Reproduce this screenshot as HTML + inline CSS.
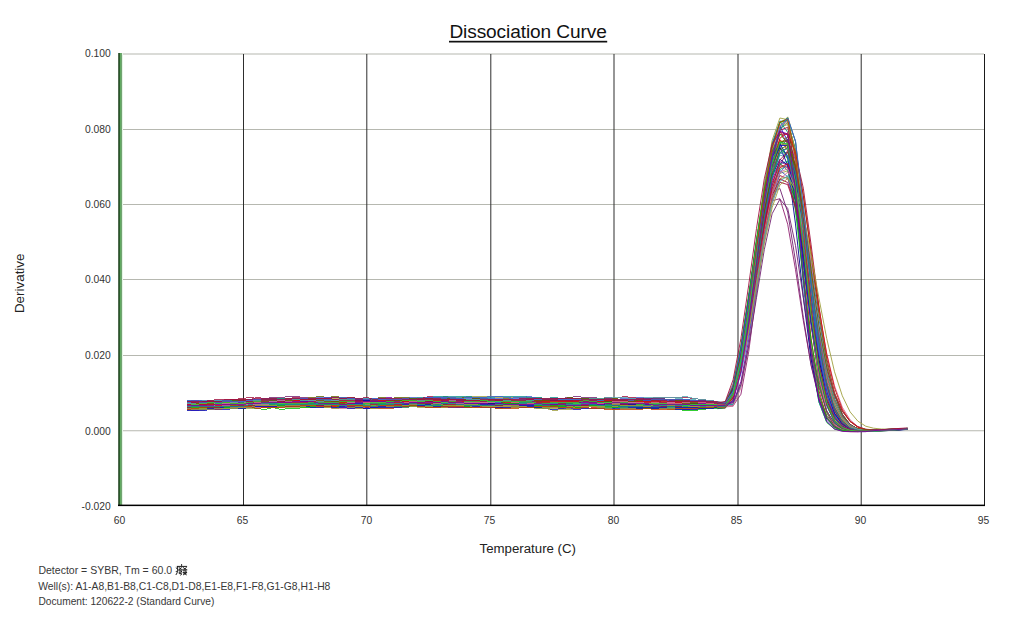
<!DOCTYPE html>
<html><head><meta charset="utf-8"><style>
html,body{margin:0;padding:0;background:#fff;width:1024px;height:640px;overflow:hidden}
svg{display:block}
</style></head><body>
<svg width="1024" height="640" viewBox="0 0 1024 640">
<rect width="1024" height="640" fill="#fff"/>
<rect x="120" y="53.5" width="864" height="1" fill="#b6b8b0"/>
<rect x="120" y="129" width="864" height="1" fill="#b6b8b0"/>
<rect x="120" y="204" width="864" height="1" fill="#b6b8b0"/>
<rect x="120" y="279" width="864" height="1" fill="#b6b8b0"/>
<rect x="120" y="355" width="864" height="1" fill="#b6b8b0"/>
<rect x="120" y="430.25" width="864" height="1" fill="#b6b8b0"/>
<rect x="243.0" y="54" width="1" height="451" fill="#2e2e2e"/>
<rect x="366.3" y="54" width="1" height="451" fill="#2e2e2e"/>
<rect x="490.3" y="54" width="1" height="451" fill="#2e2e2e"/>
<rect x="613.5" y="54" width="1" height="451" fill="#2e2e2e"/>
<rect x="737.5" y="54" width="1" height="451" fill="#2e2e2e"/>
<rect x="860.7" y="54" width="1" height="451" fill="#2e2e2e"/>
<rect x="984" y="54" width="1" height="452" fill="#1a1a1a"/>
<g fill="none" stroke-width="1" stroke-opacity="0.8" shape-rendering="crispEdges">
<polyline stroke="#d07090" points="187,409.5 195,408.5 203,408.5 211,407.5 218,408.5 226,407.5 234,407.5 242,406.5 250,406.5 257,406.5 265,406.5 273,406.5 281,406.5 289,406.5 296,405.5 304,406.5 312,407.5 320,407.5 328,407.5 335,408.5 343,408.5 351,408.5 359,408.5 367,408.5 374,408.5 382,407.5 390,407.5 398,407.5 406,407.5 413,406.5 421,406.5 429,406.5 437,405.5 445,405.5 452,406.5 460,406.5 468,406.5 476,405.5 484,406.5 491,406.5 499,407.5 507,408.5 515,407.5 523,407.5 530,407.5 538,406.5 546,405.5 554,405.5 562,405.5 569,405.5 577,406.5 585,406.5 593,405.5 601,407.5 608,406.5 616,407.5 624,406.5 632,406.5 640,407.5 647,406.5 655,407.5 663,407.5 671,407.5 679,407.5 686,407.5 694,407.5 702,406.5 710,406.5 718,406.5"/>
<polyline stroke="#c04000" points="187,403.5 195,403.5 203,403.5 211,402.5 218,402.5 226,403.5 234,401.5 242,401.5 250,399.5 257,399.5 265,400.5 273,401.5 281,400.5 289,398.5 296,399.5 304,400.5 312,400.5 320,400.5 328,400.5 335,400.5 343,400.5 351,400.5 359,400.5 367,399.5 374,400.5 382,399.5 390,401.5 398,402.5 406,401.5 413,401.5 421,400.5 429,400.5 437,399.5 445,399.5 452,398.5 460,399.5 468,399.5 476,400.5 484,400.5 491,401.5 499,401.5 507,401.5 515,401.5 523,401.5 530,402.5 538,402.5 546,401.5 554,400.5 562,400.5 569,401.5 577,401.5 585,400.5 593,399.5 601,399.5 608,398.5 616,399.5 624,399.5 632,399.5 640,399.5 647,399.5 655,400.5 663,400.5 671,401.5 679,401.5 686,402.5 694,402.5 702,403.5 710,403.5 718,403.5"/>
<polyline stroke="#c04000" points="187,408.5 195,408.5 203,407.5 211,407.5 218,407.5 226,406.5 234,406.5 242,406.5 250,407.5 257,406.5 265,406.5 273,407.5 281,407.5 289,405.5 296,405.5 304,405.5 312,405.5 320,406.5 328,406.5 335,406.5 343,407.5 351,407.5 359,407.5 367,407.5 374,408.5 382,408.5 390,408.5 398,407.5 406,406.5 413,406.5 421,405.5 429,406.5 437,407.5 445,407.5 452,406.5 460,406.5 468,406.5 476,406.5 484,406.5 491,407.5 499,407.5 507,407.5 515,407.5 523,406.5 530,405.5 538,406.5 546,405.5 554,405.5 562,405.5 569,404.5 577,405.5 585,405.5 593,404.5 601,404.5 608,405.5 616,405.5 624,404.5 632,405.5 640,405.5 647,405.5 655,406.5 663,406.5 671,406.5 679,407.5 686,407.5 694,407.5 702,407.5 710,407.5 718,407.5"/>
<polyline stroke="#902070" points="187,406.5 195,406.5 203,405.5 211,406.5 218,407.5 226,406.5 234,405.5 242,404.5 250,404.5 257,404.5 265,402.5 273,403.5 281,404.5 289,404.5 296,404.5 304,403.5 312,403.5 320,404.5 328,403.5 335,402.5 343,401.5 351,403.5 359,403.5 367,404.5 374,403.5 382,403.5 390,402.5 398,402.5 406,402.5 413,402.5 421,402.5 429,402.5 437,402.5 445,402.5 452,402.5 460,402.5 468,402.5 476,402.5 484,403.5 491,403.5 499,404.5 507,405.5 515,404.5 523,404.5 530,404.5 538,403.5 546,403.5 554,403.5 562,405.5 569,405.5 577,404.5 585,403.5 593,402.5 601,402.5 608,403.5 616,404.5 624,404.5 632,404.5 640,403.5 647,404.5 655,404.5 663,405.5 671,405.5 679,405.5 686,405.5 694,405.5 702,405.5 710,405.5 718,405.5"/>
<polyline stroke="#20a060" points="187,405.5 195,405.5 203,405.5 211,404.5 218,404.5 226,404.5 234,403.5 242,402.5 250,402.5 257,401.5 265,402.5 273,402.5 281,402.5 289,402.5 296,402.5 304,403.5 312,403.5 320,404.5 328,403.5 335,404.5 343,404.5 351,404.5 359,404.5 367,404.5 374,403.5 382,402.5 390,403.5 398,402.5 406,402.5 413,402.5 421,403.5 429,403.5 437,402.5 445,402.5 452,403.5 460,403.5 468,403.5 476,403.5 484,403.5 491,404.5 499,404.5 507,403.5 515,403.5 523,402.5 530,402.5 538,403.5 546,402.5 554,403.5 562,403.5 569,402.5 577,401.5 585,401.5 593,402.5 601,402.5 608,403.5 616,403.5 624,404.5 632,402.5 640,402.5 647,402.5 655,403.5 663,404.5 671,404.5 679,403.5 686,404.5 694,403.5 702,403.5 710,404.5 718,404.5"/>
<polyline stroke="#606000" points="187,404.5 195,403.5 203,403.5 211,403.5 218,402.5 226,402.5 234,401.5 242,401.5 250,401.5 257,401.5 265,401.5 273,401.5 281,400.5 289,401.5 296,400.5 304,401.5 312,401.5 320,402.5 328,401.5 335,400.5 343,400.5 351,399.5 359,401.5 367,401.5 374,401.5 382,402.5 390,401.5 398,401.5 406,401.5 413,400.5 421,401.5 429,401.5 437,402.5 445,401.5 452,401.5 460,401.5 468,400.5 476,401.5 484,401.5 491,401.5 499,402.5 507,402.5 515,401.5 523,400.5 530,400.5 538,400.5 546,400.5 554,400.5 562,400.5 569,400.5 577,400.5 585,400.5 593,401.5 601,401.5 608,401.5 616,400.5 624,401.5 632,400.5 640,402.5 647,402.5 655,402.5 663,403.5 671,403.5 679,404.5 686,404.5 694,404.5 702,404.5 710,404.5 718,403.5"/>
<polyline stroke="#a0a040" points="187,403.5 195,402.5 203,403.5 211,402.5 218,401.5 226,401.5 234,400.5 242,400.5 250,400.5 257,399.5 265,400.5 273,400.5 281,399.5 289,398.5 296,398.5 304,400.5 312,401.5 320,400.5 328,401.5 335,401.5 343,401.5 351,401.5 359,402.5 367,401.5 374,401.5 382,401.5 390,401.5 398,400.5 406,401.5 413,401.5 421,401.5 429,401.5 437,400.5 445,401.5 452,400.5 460,401.5 468,400.5 476,400.5 484,401.5 491,401.5 499,400.5 507,399.5 515,400.5 523,400.5 530,399.5 538,401.5 546,402.5 554,402.5 562,402.5 569,400.5 577,400.5 585,400.5 593,400.5 601,402.5 608,403.5 616,402.5 624,402.5 632,402.5 640,402.5 647,402.5 655,402.5 663,401.5 671,402.5 679,402.5 686,402.5 694,403.5 702,402.5 710,403.5 718,403.5"/>
<polyline stroke="#8000a0" points="187,402.5 195,401.5 203,401.5 211,401.5 218,401.5 226,401.5 234,401.5 242,401.5 250,401.5 257,401.5 265,401.5 273,401.5 281,400.5 289,400.5 296,401.5 304,399.5 312,400.5 320,399.5 328,398.5 335,399.5 343,400.5 351,399.5 359,399.5 367,398.5 374,399.5 382,398.5 390,397.5 398,399.5 406,398.5 413,398.5 421,399.5 429,399.5 437,398.5 445,398.5 452,399.5 460,399.5 468,399.5 476,399.5 484,400.5 491,401.5 499,400.5 507,400.5 515,400.5 523,401.5 530,401.5 538,400.5 546,400.5 554,400.5 562,401.5 569,401.5 577,400.5 585,400.5 593,400.5 601,400.5 608,400.5 616,400.5 624,401.5 632,400.5 640,401.5 647,401.5 655,400.5 663,400.5 671,400.5 679,401.5 686,402.5 694,402.5 702,402.5 710,402.5 718,402.5"/>
<polyline stroke="#d01010" points="187,406.5 195,405.5 203,404.5 211,404.5 218,404.5 226,406.5 234,405.5 242,406.5 250,406.5 257,406.5 265,406.5 273,405.5 281,405.5 289,405.5 296,405.5 304,405.5 312,405.5 320,404.5 328,405.5 335,406.5 343,406.5 351,404.5 359,404.5 367,404.5 374,404.5 382,403.5 390,403.5 398,404.5 406,404.5 413,404.5 421,404.5 429,405.5 437,405.5 445,404.5 452,404.5 460,403.5 468,403.5 476,402.5 484,402.5 491,402.5 499,401.5 507,402.5 515,402.5 523,402.5 530,402.5 538,402.5 546,402.5 554,403.5 562,404.5 569,403.5 577,404.5 585,405.5 593,405.5 601,406.5 608,406.5 616,406.5 624,406.5 632,406.5 640,406.5 647,406.5 655,406.5 663,405.5 671,404.5 679,405.5 686,405.5 694,405.5 702,405.5 710,405.5 718,405.5"/>
<polyline stroke="#109090" points="187,406.5 195,405.5 203,405.5 211,403.5 218,404.5 226,404.5 234,404.5 242,405.5 250,404.5 257,404.5 265,404.5 273,404.5 281,404.5 289,404.5 296,404.5 304,404.5 312,405.5 320,404.5 328,405.5 335,405.5 343,405.5 351,406.5 359,406.5 367,406.5 374,405.5 382,406.5 390,406.5 398,406.5 406,406.5 413,406.5 421,406.5 429,405.5 437,404.5 445,404.5 452,404.5 460,404.5 468,404.5 476,405.5 484,404.5 491,404.5 499,404.5 507,403.5 515,403.5 523,403.5 530,402.5 538,402.5 546,403.5 554,404.5 562,403.5 569,404.5 577,404.5 585,404.5 593,403.5 601,403.5 608,402.5 616,403.5 624,403.5 632,403.5 640,403.5 647,403.5 655,403.5 663,404.5 671,403.5 679,404.5 686,404.5 694,405.5 702,405.5 710,406.5 718,406.5"/>
<polyline stroke="#109090" points="187,402.5 195,403.5 203,403.5 211,403.5 218,403.5 226,403.5 234,402.5 242,402.5 250,402.5 257,401.5 265,403.5 273,404.5 281,402.5 289,402.5 296,402.5 304,403.5 312,403.5 320,402.5 328,403.5 335,403.5 343,402.5 351,402.5 359,401.5 367,401.5 374,400.5 382,401.5 390,402.5 398,401.5 406,400.5 413,401.5 421,400.5 429,401.5 437,401.5 445,401.5 452,400.5 460,399.5 468,400.5 476,401.5 484,402.5 491,402.5 499,401.5 507,401.5 515,402.5 523,402.5 530,402.5 538,402.5 546,402.5 554,402.5 562,401.5 569,401.5 577,401.5 585,402.5 593,402.5 601,402.5 608,403.5 616,402.5 624,403.5 632,402.5 640,402.5 647,402.5 655,402.5 663,402.5 671,403.5 679,404.5 686,403.5 694,404.5 702,404.5 710,404.5 718,404.5"/>
<polyline stroke="#a0a040" points="187,402.5 195,401.5 203,401.5 211,401.5 218,401.5 226,400.5 234,399.5 242,400.5 250,400.5 257,400.5 265,399.5 273,400.5 281,400.5 289,399.5 296,399.5 304,399.5 312,400.5 320,399.5 328,399.5 335,398.5 343,398.5 351,399.5 359,398.5 367,398.5 374,398.5 382,398.5 390,398.5 398,399.5 406,398.5 413,398.5 421,398.5 429,400.5 437,400.5 445,399.5 452,398.5 460,398.5 468,396.5 476,396.5 484,396.5 491,396.5 499,397.5 507,397.5 515,397.5 523,397.5 530,397.5 538,397.5 546,398.5 554,398.5 562,398.5 569,398.5 577,399.5 585,398.5 593,400.5 601,400.5 608,401.5 616,401.5 624,400.5 632,400.5 640,400.5 647,400.5 655,399.5 663,400.5 671,399.5 679,400.5 686,401.5 694,401.5 702,401.5 710,402.5 718,402.5"/>
<polyline stroke="#50a8b0" points="187,403.5 195,403.5 203,403.5 211,402.5 218,403.5 226,403.5 234,402.5 242,402.5 250,400.5 257,400.5 265,401.5 273,401.5 281,401.5 289,402.5 296,402.5 304,401.5 312,402.5 320,401.5 328,402.5 335,401.5 343,401.5 351,400.5 359,400.5 367,400.5 374,399.5 382,400.5 390,399.5 398,399.5 406,399.5 413,400.5 421,399.5 429,400.5 437,400.5 445,401.5 452,400.5 460,400.5 468,401.5 476,400.5 484,399.5 491,398.5 499,399.5 507,399.5 515,399.5 523,398.5 530,398.5 538,399.5 546,399.5 554,399.5 562,400.5 569,400.5 577,400.5 585,400.5 593,400.5 601,399.5 608,399.5 616,399.5 624,400.5 632,400.5 640,399.5 647,398.5 655,399.5 663,399.5 671,399.5 679,398.5 686,399.5 694,399.5 702,401.5 710,401.5 718,402.5"/>
<polyline stroke="#d01010" points="187,408.5 195,406.5 203,407.5 211,407.5 218,407.5 226,408.5 234,408.5 242,407.5 250,407.5 257,407.5 265,407.5 273,406.5 281,406.5 289,405.5 296,405.5 304,405.5 312,406.5 320,405.5 328,405.5 335,404.5 343,404.5 351,404.5 359,404.5 367,405.5 374,406.5 382,406.5 390,406.5 398,406.5 406,406.5 413,405.5 421,405.5 429,405.5 437,406.5 445,406.5 452,405.5 460,405.5 468,405.5 476,405.5 484,405.5 491,406.5 499,407.5 507,406.5 515,407.5 523,407.5 530,406.5 538,406.5 546,407.5 554,406.5 562,405.5 569,405.5 577,404.5 585,405.5 593,407.5 601,407.5 608,406.5 616,405.5 624,405.5 632,406.5 640,405.5 647,407.5 655,407.5 663,407.5 671,406.5 679,407.5 686,406.5 694,406.5 702,407.5 710,406.5 718,406.5"/>
<polyline stroke="#a01040" points="187,406.5 195,407.5 203,406.5 211,407.5 218,406.5 226,406.5 234,406.5 242,406.5 250,406.5 257,406.5 265,406.5 273,405.5 281,405.5 289,405.5 296,405.5 304,405.5 312,405.5 320,405.5 328,406.5 335,405.5 343,405.5 351,405.5 359,406.5 367,406.5 374,407.5 382,407.5 390,406.5 398,405.5 406,405.5 413,404.5 421,403.5 429,404.5 437,405.5 445,404.5 452,404.5 460,403.5 468,402.5 476,402.5 484,402.5 491,403.5 499,403.5 507,404.5 515,403.5 523,403.5 530,405.5 538,404.5 546,405.5 554,405.5 562,405.5 569,405.5 577,404.5 585,405.5 593,405.5 601,404.5 608,404.5 616,405.5 624,404.5 632,405.5 640,404.5 647,404.5 655,404.5 663,404.5 671,405.5 679,406.5 686,406.5 694,406.5 702,405.5 710,405.5 718,406.5"/>
<polyline stroke="#a0a040" points="187,404.5 195,403.5 203,403.5 211,403.5 218,404.5 226,403.5 234,403.5 242,403.5 250,402.5 257,402.5 265,401.5 273,401.5 281,401.5 289,400.5 296,401.5 304,400.5 312,401.5 320,401.5 328,401.5 335,402.5 343,402.5 351,402.5 359,402.5 367,401.5 374,401.5 382,401.5 390,401.5 398,400.5 406,401.5 413,401.5 421,399.5 429,399.5 437,399.5 445,399.5 452,399.5 460,400.5 468,401.5 476,401.5 484,401.5 491,401.5 499,401.5 507,402.5 515,402.5 523,402.5 530,403.5 538,403.5 546,404.5 554,404.5 562,404.5 569,404.5 577,404.5 585,404.5 593,403.5 601,404.5 608,404.5 616,403.5 624,403.5 632,403.5 640,403.5 647,403.5 655,402.5 663,402.5 671,402.5 679,402.5 686,402.5 694,403.5 702,404.5 710,404.5 718,404.5"/>
<polyline stroke="#1010c8" points="187,406.5 195,406.5 203,407.5 211,407.5 218,407.5 226,407.5 234,407.5 242,406.5 250,405.5 257,405.5 265,405.5 273,405.5 281,405.5 289,405.5 296,404.5 304,405.5 312,405.5 320,405.5 328,404.5 335,404.5 343,404.5 351,403.5 359,403.5 367,403.5 374,403.5 382,403.5 390,403.5 398,403.5 406,403.5 413,402.5 421,404.5 429,405.5 437,404.5 445,404.5 452,404.5 460,404.5 468,404.5 476,404.5 484,404.5 491,404.5 499,404.5 507,404.5 515,404.5 523,405.5 530,405.5 538,405.5 546,405.5 554,406.5 562,406.5 569,406.5 577,406.5 585,405.5 593,406.5 601,404.5 608,405.5 616,405.5 624,406.5 632,406.5 640,405.5 647,405.5 655,405.5 663,406.5 671,405.5 679,405.5 686,406.5 694,406.5 702,406.5 710,406.5 718,406.5"/>
<polyline stroke="#606000" points="187,401.5 195,401.5 203,401.5 211,400.5 218,400.5 226,400.5 234,400.5 242,399.5 250,399.5 257,400.5 265,399.5 273,398.5 281,398.5 289,398.5 296,398.5 304,398.5 312,397.5 320,396.5 328,397.5 335,396.5 343,397.5 351,397.5 359,398.5 367,398.5 374,398.5 382,398.5 390,398.5 398,398.5 406,398.5 413,398.5 421,398.5 429,398.5 437,398.5 445,396.5 452,397.5 460,397.5 468,397.5 476,398.5 484,398.5 491,399.5 499,399.5 507,398.5 515,399.5 523,399.5 530,398.5 538,399.5 546,399.5 554,398.5 562,399.5 569,398.5 577,399.5 585,398.5 593,399.5 601,399.5 608,399.5 616,399.5 624,399.5 632,400.5 640,400.5 647,400.5 655,399.5 663,400.5 671,399.5 679,400.5 686,400.5 694,400.5 702,401.5 710,401.5 718,402.5"/>
<polyline stroke="#10b010" points="187,405.5 195,405.5 203,405.5 211,404.5 218,404.5 226,404.5 234,404.5 242,404.5 250,404.5 257,404.5 265,403.5 273,403.5 281,403.5 289,404.5 296,404.5 304,404.5 312,403.5 320,404.5 328,403.5 335,403.5 343,403.5 351,405.5 359,405.5 367,406.5 374,405.5 382,405.5 390,404.5 398,403.5 406,404.5 413,402.5 421,402.5 429,403.5 437,403.5 445,404.5 452,403.5 460,403.5 468,402.5 476,402.5 484,401.5 491,401.5 499,402.5 507,402.5 515,402.5 523,403.5 530,403.5 538,404.5 546,403.5 554,403.5 562,404.5 569,404.5 577,403.5 585,404.5 593,405.5 601,404.5 608,405.5 616,405.5 624,405.5 632,405.5 640,405.5 647,405.5 655,405.5 663,405.5 671,404.5 679,405.5 686,404.5 694,404.5 702,404.5 710,404.5 718,404.5"/>
<polyline stroke="#a01040" points="187,407.5 195,408.5 203,408.5 211,407.5 218,406.5 226,407.5 234,406.5 242,406.5 250,405.5 257,405.5 265,405.5 273,404.5 281,404.5 289,404.5 296,404.5 304,405.5 312,405.5 320,405.5 328,405.5 335,404.5 343,405.5 351,406.5 359,406.5 367,405.5 374,404.5 382,403.5 390,403.5 398,404.5 406,404.5 413,406.5 421,406.5 429,405.5 437,406.5 445,407.5 452,407.5 460,407.5 468,406.5 476,404.5 484,403.5 491,405.5 499,406.5 507,406.5 515,405.5 523,406.5 530,406.5 538,406.5 546,406.5 554,406.5 562,405.5 569,405.5 577,405.5 585,404.5 593,403.5 601,404.5 608,405.5 616,405.5 624,404.5 632,404.5 640,404.5 647,404.5 655,404.5 663,405.5 671,405.5 679,405.5 686,405.5 694,405.5 702,405.5 710,405.5 718,405.5"/>
<polyline stroke="#a0a040" points="187,410.5 195,409.5 203,410.5 211,408.5 218,409.5 226,408.5 234,408.5 242,408.5 250,408.5 257,407.5 265,406.5 273,406.5 281,406.5 289,406.5 296,407.5 304,407.5 312,407.5 320,406.5 328,407.5 335,408.5 343,407.5 351,407.5 359,408.5 367,408.5 374,408.5 382,407.5 390,407.5 398,406.5 406,406.5 413,406.5 421,405.5 429,406.5 437,406.5 445,406.5 452,407.5 460,406.5 468,407.5 476,407.5 484,407.5 491,407.5 499,408.5 507,407.5 515,407.5 523,407.5 530,406.5 538,408.5 546,408.5 554,410.5 562,409.5 569,409.5 577,408.5 585,408.5 593,408.5 601,407.5 608,407.5 616,407.5 624,408.5 632,408.5 640,408.5 647,408.5 655,408.5 663,408.5 671,409.5 679,408.5 686,409.5 694,409.5 702,408.5 710,408.5 718,407.5"/>
<polyline stroke="#109090" points="187,400.5 195,400.5 203,400.5 211,400.5 218,400.5 226,400.5 234,400.5 242,400.5 250,400.5 257,400.5 265,399.5 273,398.5 281,398.5 289,399.5 296,399.5 304,398.5 312,398.5 320,398.5 328,398.5 335,399.5 343,398.5 351,399.5 359,398.5 367,398.5 374,399.5 382,399.5 390,398.5 398,398.5 406,399.5 413,398.5 421,397.5 429,397.5 437,396.5 445,396.5 452,396.5 460,396.5 468,396.5 476,397.5 484,397.5 491,397.5 499,396.5 507,396.5 515,396.5 523,396.5 530,397.5 538,397.5 546,398.5 554,397.5 562,398.5 569,398.5 577,398.5 585,398.5 593,399.5 601,400.5 608,399.5 616,399.5 624,399.5 632,399.5 640,400.5 647,398.5 655,398.5 663,398.5 671,400.5 679,399.5 686,399.5 694,400.5 702,400.5 710,400.5 718,401.5"/>
<polyline stroke="#000090" points="187,402.5 195,402.5 203,403.5 211,403.5 218,402.5 226,402.5 234,402.5 242,401.5 250,401.5 257,400.5 265,400.5 273,401.5 281,400.5 289,402.5 296,401.5 304,401.5 312,401.5 320,401.5 328,401.5 335,401.5 343,401.5 351,401.5 359,401.5 367,401.5 374,400.5 382,400.5 390,400.5 398,400.5 406,400.5 413,400.5 421,400.5 429,399.5 437,400.5 445,401.5 452,400.5 460,401.5 468,402.5 476,403.5 484,402.5 491,401.5 499,401.5 507,400.5 515,401.5 523,401.5 530,400.5 538,400.5 546,400.5 554,400.5 562,400.5 569,400.5 577,401.5 585,400.5 593,401.5 601,401.5 608,401.5 616,401.5 624,400.5 632,401.5 640,400.5 647,400.5 655,400.5 663,402.5 671,402.5 679,403.5 686,403.5 694,403.5 702,403.5 710,403.5 718,402.5"/>
<polyline stroke="#109090" points="187,404.5 195,405.5 203,404.5 211,405.5 218,405.5 226,404.5 234,403.5 242,404.5 250,404.5 257,404.5 265,404.5 273,404.5 281,402.5 289,402.5 296,402.5 304,402.5 312,401.5 320,400.5 328,400.5 335,400.5 343,400.5 351,401.5 359,401.5 367,401.5 374,401.5 382,402.5 390,402.5 398,403.5 406,402.5 413,402.5 421,403.5 429,403.5 437,402.5 445,402.5 452,402.5 460,402.5 468,402.5 476,402.5 484,403.5 491,402.5 499,402.5 507,402.5 515,403.5 523,402.5 530,402.5 538,403.5 546,402.5 554,402.5 562,402.5 569,402.5 577,402.5 585,401.5 593,401.5 601,401.5 608,402.5 616,403.5 624,403.5 632,403.5 640,403.5 647,403.5 655,404.5 663,404.5 671,405.5 679,405.5 686,405.5 694,404.5 702,404.5 710,404.5 718,404.5"/>
<polyline stroke="#00c000" points="187,405.5 195,405.5 203,404.5 211,404.5 218,403.5 226,402.5 234,402.5 242,403.5 250,401.5 257,401.5 265,401.5 273,402.5 281,402.5 289,402.5 296,401.5 304,402.5 312,401.5 320,401.5 328,402.5 335,402.5 343,402.5 351,401.5 359,402.5 367,402.5 374,403.5 382,403.5 390,403.5 398,403.5 406,404.5 413,404.5 421,403.5 429,403.5 437,402.5 445,403.5 452,402.5 460,401.5 468,402.5 476,402.5 484,403.5 491,403.5 499,403.5 507,404.5 515,403.5 523,403.5 530,404.5 538,403.5 546,403.5 554,402.5 562,402.5 569,402.5 577,402.5 585,402.5 593,402.5 601,403.5 608,404.5 616,403.5 624,403.5 632,402.5 640,402.5 647,402.5 655,402.5 663,403.5 671,403.5 679,404.5 686,405.5 694,406.5 702,405.5 710,405.5 718,405.5"/>
<polyline stroke="#109090" points="187,404.5 195,404.5 203,404.5 211,404.5 218,405.5 226,406.5 234,406.5 242,405.5 250,404.5 257,404.5 265,403.5 273,402.5 281,402.5 289,402.5 296,402.5 304,402.5 312,401.5 320,401.5 328,402.5 335,402.5 343,401.5 351,402.5 359,402.5 367,402.5 374,401.5 382,400.5 390,401.5 398,402.5 406,401.5 413,402.5 421,401.5 429,401.5 437,401.5 445,401.5 452,401.5 460,401.5 468,402.5 476,402.5 484,403.5 491,402.5 499,401.5 507,401.5 515,401.5 523,402.5 530,402.5 538,402.5 546,402.5 554,401.5 562,401.5 569,401.5 577,402.5 585,402.5 593,402.5 601,401.5 608,400.5 616,401.5 624,401.5 632,401.5 640,402.5 647,402.5 655,403.5 663,404.5 671,404.5 679,404.5 686,404.5 694,404.5 702,404.5 710,403.5 718,403.5"/>
<polyline stroke="#d07090" points="187,408.5 195,408.5 203,408.5 211,408.5 218,407.5 226,407.5 234,407.5 242,408.5 250,407.5 257,407.5 265,406.5 273,405.5 281,405.5 289,405.5 296,405.5 304,404.5 312,405.5 320,405.5 328,404.5 335,404.5 343,404.5 351,404.5 359,405.5 367,404.5 374,404.5 382,404.5 390,403.5 398,403.5 406,404.5 413,404.5 421,404.5 429,404.5 437,405.5 445,405.5 452,404.5 460,404.5 468,404.5 476,404.5 484,404.5 491,404.5 499,406.5 507,406.5 515,406.5 523,405.5 530,404.5 538,405.5 546,403.5 554,403.5 562,403.5 569,404.5 577,404.5 585,404.5 593,404.5 601,404.5 608,403.5 616,403.5 624,404.5 632,404.5 640,404.5 647,403.5 655,402.5 663,403.5 671,403.5 679,403.5 686,403.5 694,404.5 702,404.5 710,405.5 718,406.5"/>
<polyline stroke="#a01040" points="187,401.5 195,401.5 203,402.5 211,401.5 218,401.5 226,399.5 234,399.5 242,399.5 250,399.5 257,399.5 265,399.5 273,399.5 281,399.5 289,398.5 296,397.5 304,398.5 312,399.5 320,399.5 328,398.5 335,399.5 343,399.5 351,399.5 359,398.5 367,399.5 374,398.5 382,398.5 390,399.5 398,398.5 406,398.5 413,399.5 421,398.5 429,396.5 437,397.5 445,397.5 452,398.5 460,398.5 468,399.5 476,398.5 484,398.5 491,399.5 499,399.5 507,399.5 515,399.5 523,399.5 530,400.5 538,400.5 546,400.5 554,400.5 562,399.5 569,400.5 577,399.5 585,401.5 593,399.5 601,399.5 608,400.5 616,400.5 624,400.5 632,400.5 640,400.5 647,399.5 655,400.5 663,400.5 671,400.5 679,399.5 686,400.5 694,400.5 702,401.5 710,401.5 718,402.5"/>
<polyline stroke="#a01040" points="187,401.5 195,400.5 203,401.5 211,400.5 218,400.5 226,400.5 234,399.5 242,400.5 250,399.5 257,397.5 265,398.5 273,398.5 281,399.5 289,399.5 296,400.5 304,399.5 312,399.5 320,400.5 328,400.5 335,401.5 343,400.5 351,399.5 359,399.5 367,400.5 374,400.5 382,399.5 390,400.5 398,400.5 406,399.5 413,400.5 421,399.5 429,400.5 437,400.5 445,398.5 452,399.5 460,400.5 468,400.5 476,401.5 484,400.5 491,400.5 499,400.5 507,400.5 515,400.5 523,400.5 530,399.5 538,399.5 546,400.5 554,398.5 562,399.5 569,398.5 577,399.5 585,399.5 593,398.5 601,398.5 608,397.5 616,398.5 624,396.5 632,397.5 640,398.5 647,399.5 655,397.5 663,397.5 671,397.5 679,397.5 686,397.5 694,398.5 702,399.5 710,400.5 718,401.5"/>
<polyline stroke="#702070" points="187,409.5 195,410.5 203,409.5 211,409.5 218,409.5 226,408.5 234,407.5 242,408.5 250,407.5 257,406.5 265,406.5 273,406.5 281,405.5 289,406.5 296,405.5 304,405.5 312,405.5 320,404.5 328,404.5 335,405.5 343,405.5 351,405.5 359,405.5 367,407.5 374,405.5 382,406.5 390,406.5 398,406.5 406,406.5 413,406.5 421,406.5 429,407.5 437,407.5 445,406.5 452,407.5 460,407.5 468,406.5 476,405.5 484,404.5 491,405.5 499,405.5 507,405.5 515,405.5 523,405.5 530,406.5 538,407.5 546,408.5 554,407.5 562,407.5 569,407.5 577,407.5 585,407.5 593,406.5 601,407.5 608,408.5 616,407.5 624,407.5 632,408.5 640,408.5 647,408.5 655,408.5 663,408.5 671,408.5 679,408.5 686,409.5 694,408.5 702,408.5 710,408.5 718,407.5"/>
<polyline stroke="#20a060" points="187,406.5 195,406.5 203,406.5 211,406.5 218,406.5 226,406.5 234,405.5 242,405.5 250,404.5 257,405.5 265,405.5 273,404.5 281,404.5 289,404.5 296,404.5 304,403.5 312,402.5 320,402.5 328,403.5 335,405.5 343,404.5 351,404.5 359,404.5 367,404.5 374,404.5 382,403.5 390,404.5 398,404.5 406,404.5 413,405.5 421,405.5 429,405.5 437,404.5 445,403.5 452,402.5 460,402.5 468,403.5 476,404.5 484,403.5 491,404.5 499,404.5 507,404.5 515,404.5 523,403.5 530,403.5 538,404.5 546,404.5 554,404.5 562,405.5 569,406.5 577,406.5 585,406.5 593,406.5 601,407.5 608,407.5 616,407.5 624,407.5 632,407.5 640,407.5 647,407.5 655,407.5 663,407.5 671,407.5 679,407.5 686,407.5 694,407.5 702,407.5 710,406.5 718,406.5"/>
<polyline stroke="#4060d0" points="187,404.5 195,404.5 203,403.5 211,403.5 218,404.5 226,403.5 234,403.5 242,403.5 250,402.5 257,402.5 265,402.5 273,401.5 281,400.5 289,401.5 296,401.5 304,401.5 312,401.5 320,401.5 328,399.5 335,400.5 343,400.5 351,400.5 359,401.5 367,401.5 374,402.5 382,401.5 390,401.5 398,400.5 406,401.5 413,400.5 421,400.5 429,401.5 437,402.5 445,401.5 452,401.5 460,402.5 468,402.5 476,403.5 484,403.5 491,401.5 499,402.5 507,400.5 515,401.5 523,401.5 530,400.5 538,400.5 546,399.5 554,399.5 562,399.5 569,398.5 577,400.5 585,401.5 593,401.5 601,401.5 608,400.5 616,401.5 624,400.5 632,400.5 640,400.5 647,400.5 655,400.5 663,400.5 671,400.5 679,401.5 686,401.5 694,402.5 702,403.5 710,403.5 718,403.5"/>
<polyline stroke="#4060d0" points="187,404.5 195,404.5 203,404.5 211,403.5 218,404.5 226,403.5 234,403.5 242,403.5 250,402.5 257,402.5 265,401.5 273,401.5 281,402.5 289,402.5 296,403.5 304,404.5 312,404.5 320,403.5 328,402.5 335,402.5 343,401.5 351,401.5 359,401.5 367,400.5 374,400.5 382,400.5 390,400.5 398,401.5 406,402.5 413,402.5 421,402.5 429,402.5 437,402.5 445,402.5 452,402.5 460,401.5 468,400.5 476,400.5 484,401.5 491,402.5 499,400.5 507,400.5 515,401.5 523,401.5 530,402.5 538,402.5 546,402.5 554,402.5 562,403.5 569,401.5 577,401.5 585,401.5 593,401.5 601,402.5 608,403.5 616,402.5 624,402.5 632,402.5 640,402.5 647,402.5 655,402.5 663,403.5 671,403.5 679,403.5 686,404.5 694,405.5 702,405.5 710,404.5 718,404.5"/>
<polyline stroke="#d07090" points="187,406.5 195,406.5 203,405.5 211,405.5 218,404.5 226,404.5 234,403.5 242,404.5 250,404.5 257,403.5 265,404.5 273,405.5 281,403.5 289,403.5 296,403.5 304,402.5 312,401.5 320,401.5 328,401.5 335,401.5 343,400.5 351,400.5 359,401.5 367,401.5 374,403.5 382,402.5 390,403.5 398,402.5 406,402.5 413,402.5 421,402.5 429,402.5 437,402.5 445,402.5 452,402.5 460,401.5 468,402.5 476,402.5 484,402.5 491,403.5 499,403.5 507,402.5 515,402.5 523,403.5 530,404.5 538,404.5 546,403.5 554,403.5 562,401.5 569,402.5 577,402.5 585,402.5 593,402.5 601,402.5 608,402.5 616,402.5 624,402.5 632,403.5 640,402.5 647,403.5 655,402.5 663,402.5 671,402.5 679,402.5 686,401.5 694,402.5 702,403.5 710,403.5 718,403.5"/>
<polyline stroke="#606000" points="187,402.5 195,402.5 203,402.5 211,402.5 218,401.5 226,400.5 234,401.5 242,400.5 250,400.5 257,400.5 265,400.5 273,400.5 281,401.5 289,400.5 296,400.5 304,399.5 312,399.5 320,399.5 328,399.5 335,399.5 343,399.5 351,399.5 359,398.5 367,398.5 374,398.5 382,397.5 390,398.5 398,397.5 406,397.5 413,398.5 421,398.5 429,398.5 437,397.5 445,398.5 452,398.5 460,399.5 468,399.5 476,398.5 484,398.5 491,400.5 499,400.5 507,401.5 515,400.5 523,400.5 530,401.5 538,400.5 546,399.5 554,399.5 562,400.5 569,399.5 577,399.5 585,400.5 593,401.5 601,401.5 608,401.5 616,400.5 624,400.5 632,401.5 640,399.5 647,399.5 655,400.5 663,400.5 671,401.5 679,400.5 686,400.5 694,401.5 702,401.5 710,401.5 718,402.5"/>
<polyline stroke="#606000" points="187,405.5 195,404.5 203,404.5 211,404.5 218,404.5 226,404.5 234,404.5 242,403.5 250,402.5 257,403.5 265,403.5 273,402.5 281,402.5 289,401.5 296,402.5 304,402.5 312,403.5 320,404.5 328,403.5 335,403.5 343,403.5 351,403.5 359,402.5 367,401.5 374,400.5 382,400.5 390,401.5 398,401.5 406,401.5 413,400.5 421,400.5 429,401.5 437,401.5 445,401.5 452,401.5 460,400.5 468,400.5 476,400.5 484,400.5 491,401.5 499,401.5 507,403.5 515,402.5 523,401.5 530,401.5 538,401.5 546,400.5 554,401.5 562,400.5 569,401.5 577,402.5 585,402.5 593,402.5 601,402.5 608,402.5 616,402.5 624,403.5 632,403.5 640,402.5 647,401.5 655,402.5 663,402.5 671,403.5 679,403.5 686,403.5 694,403.5 702,403.5 710,403.5 718,404.5"/>
<polyline stroke="#00c000" points="187,407.5 195,407.5 203,408.5 211,408.5 218,407.5 226,407.5 234,408.5 242,408.5 250,407.5 257,408.5 265,409.5 273,407.5 281,409.5 289,408.5 296,408.5 304,407.5 312,407.5 320,407.5 328,406.5 335,407.5 343,405.5 351,405.5 359,405.5 367,405.5 374,405.5 382,406.5 390,405.5 398,405.5 406,405.5 413,405.5 421,404.5 429,404.5 437,405.5 445,405.5 452,405.5 460,405.5 468,406.5 476,405.5 484,405.5 491,404.5 499,405.5 507,405.5 515,406.5 523,406.5 530,407.5 538,407.5 546,407.5 554,406.5 562,406.5 569,406.5 577,407.5 585,406.5 593,406.5 601,407.5 608,406.5 616,407.5 624,408.5 632,407.5 640,408.5 647,408.5 655,408.5 663,408.5 671,408.5 679,409.5 686,410.5 694,410.5 702,409.5 710,408.5 718,408.5"/>
<polyline stroke="#20a060" points="187,408.5 195,407.5 203,407.5 211,405.5 218,405.5 226,405.5 234,405.5 242,406.5 250,406.5 257,406.5 265,405.5 273,404.5 281,405.5 289,405.5 296,405.5 304,405.5 312,404.5 320,404.5 328,404.5 335,404.5 343,405.5 351,404.5 359,405.5 367,406.5 374,406.5 382,405.5 390,405.5 398,406.5 406,407.5 413,406.5 421,405.5 429,406.5 437,405.5 445,405.5 452,404.5 460,405.5 468,404.5 476,404.5 484,403.5 491,403.5 499,404.5 507,404.5 515,404.5 523,404.5 530,405.5 538,405.5 546,405.5 554,404.5 562,405.5 569,406.5 577,405.5 585,406.5 593,406.5 601,405.5 608,405.5 616,407.5 624,406.5 632,405.5 640,404.5 647,404.5 655,405.5 663,405.5 671,405.5 679,405.5 686,405.5 694,405.5 702,406.5 710,405.5 718,405.5"/>
<polyline stroke="#000090" points="187,405.5 195,405.5 203,404.5 211,404.5 218,404.5 226,405.5 234,404.5 242,404.5 250,401.5 257,401.5 265,402.5 273,402.5 281,402.5 289,401.5 296,401.5 304,401.5 312,401.5 320,401.5 328,400.5 335,401.5 343,401.5 351,401.5 359,400.5 367,400.5 374,400.5 382,400.5 390,400.5 398,400.5 406,400.5 413,399.5 421,399.5 429,401.5 437,400.5 445,401.5 452,402.5 460,402.5 468,402.5 476,402.5 484,403.5 491,403.5 499,403.5 507,404.5 515,403.5 523,403.5 530,403.5 538,403.5 546,403.5 554,403.5 562,404.5 569,403.5 577,402.5 585,402.5 593,403.5 601,402.5 608,404.5 616,404.5 624,404.5 632,404.5 640,404.5 647,404.5 655,404.5 663,404.5 671,404.5 679,405.5 686,406.5 694,405.5 702,404.5 710,404.5 718,404.5"/>
<polyline stroke="#d07090" points="187,406.5 195,406.5 203,406.5 211,405.5 218,405.5 226,405.5 234,404.5 242,404.5 250,404.5 257,404.5 265,403.5 273,403.5 281,402.5 289,402.5 296,402.5 304,402.5 312,401.5 320,401.5 328,401.5 335,401.5 343,402.5 351,402.5 359,402.5 367,401.5 374,400.5 382,400.5 390,400.5 398,401.5 406,400.5 413,399.5 421,399.5 429,400.5 437,400.5 445,400.5 452,400.5 460,401.5 468,401.5 476,400.5 484,400.5 491,399.5 499,399.5 507,399.5 515,399.5 523,399.5 530,399.5 538,400.5 546,401.5 554,401.5 562,401.5 569,402.5 577,401.5 585,402.5 593,403.5 601,403.5 608,403.5 616,402.5 624,402.5 632,402.5 640,402.5 647,402.5 655,402.5 663,402.5 671,402.5 679,402.5 686,401.5 694,402.5 702,403.5 710,403.5 718,403.5"/>
<polyline stroke="#a01040" points="187,402.5 195,402.5 203,402.5 211,401.5 218,402.5 226,402.5 234,402.5 242,401.5 250,401.5 257,401.5 265,401.5 273,402.5 281,401.5 289,402.5 296,402.5 304,402.5 312,402.5 320,402.5 328,401.5 335,401.5 343,400.5 351,400.5 359,400.5 367,399.5 374,400.5 382,400.5 390,400.5 398,400.5 406,401.5 413,401.5 421,401.5 429,401.5 437,401.5 445,401.5 452,401.5 460,401.5 468,402.5 476,402.5 484,401.5 491,400.5 499,401.5 507,400.5 515,401.5 523,400.5 530,401.5 538,401.5 546,401.5 554,402.5 562,402.5 569,401.5 577,401.5 585,401.5 593,401.5 601,401.5 608,400.5 616,400.5 624,401.5 632,401.5 640,401.5 647,401.5 655,401.5 663,402.5 671,401.5 679,402.5 686,402.5 694,402.5 702,402.5 710,403.5 718,403.5"/>
<polyline stroke="#8000a0" points="187,404.5 195,404.5 203,404.5 211,403.5 218,403.5 226,402.5 234,402.5 242,402.5 250,402.5 257,402.5 265,402.5 273,402.5 281,402.5 289,403.5 296,403.5 304,404.5 312,402.5 320,402.5 328,402.5 335,402.5 343,401.5 351,401.5 359,401.5 367,403.5 374,403.5 382,402.5 390,402.5 398,403.5 406,402.5 413,402.5 421,402.5 429,402.5 437,402.5 445,401.5 452,402.5 460,402.5 468,401.5 476,400.5 484,401.5 491,400.5 499,399.5 507,401.5 515,400.5 523,401.5 530,401.5 538,402.5 546,403.5 554,402.5 562,402.5 569,402.5 577,402.5 585,402.5 593,402.5 601,403.5 608,402.5 616,402.5 624,402.5 632,403.5 640,403.5 647,404.5 655,404.5 663,404.5 671,403.5 679,404.5 686,404.5 694,404.5 702,403.5 710,403.5 718,404.5"/>
<polyline stroke="#a0a040" points="187,407.5 195,407.5 203,407.5 211,407.5 218,407.5 226,406.5 234,406.5 242,406.5 250,405.5 257,405.5 265,405.5 273,405.5 281,406.5 289,406.5 296,405.5 304,405.5 312,405.5 320,405.5 328,405.5 335,404.5 343,404.5 351,405.5 359,404.5 367,404.5 374,404.5 382,405.5 390,405.5 398,404.5 406,404.5 413,404.5 421,404.5 429,405.5 437,404.5 445,404.5 452,404.5 460,405.5 468,405.5 476,407.5 484,407.5 491,406.5 499,406.5 507,405.5 515,405.5 523,406.5 530,406.5 538,406.5 546,407.5 554,407.5 562,408.5 569,406.5 577,406.5 585,406.5 593,406.5 601,406.5 608,406.5 616,406.5 624,406.5 632,407.5 640,407.5 647,406.5 655,405.5 663,407.5 671,408.5 679,408.5 686,408.5 694,407.5 702,406.5 710,407.5 718,406.5"/>
<polyline stroke="#1010c8" points="187,410.5 195,410.5 203,410.5 211,409.5 218,408.5 226,409.5 234,408.5 242,408.5 250,407.5 257,406.5 265,406.5 273,406.5 281,406.5 289,406.5 296,406.5 304,406.5 312,406.5 320,405.5 328,404.5 335,405.5 343,406.5 351,407.5 359,407.5 367,408.5 374,407.5 382,407.5 390,407.5 398,407.5 406,406.5 413,405.5 421,405.5 429,405.5 437,406.5 445,406.5 452,406.5 460,406.5 468,407.5 476,406.5 484,407.5 491,407.5 499,407.5 507,407.5 515,406.5 523,407.5 530,406.5 538,407.5 546,408.5 554,409.5 562,408.5 569,408.5 577,409.5 585,408.5 593,408.5 601,408.5 608,408.5 616,408.5 624,408.5 632,407.5 640,408.5 647,407.5 655,408.5 663,408.5 671,408.5 679,409.5 686,409.5 694,409.5 702,408.5 710,408.5 718,407.5"/>
<polyline stroke="#a0a040" points="187,408.5 195,408.5 203,408.5 211,408.5 218,408.5 226,408.5 234,408.5 242,407.5 250,406.5 257,405.5 265,406.5 273,406.5 281,407.5 289,407.5 296,406.5 304,406.5 312,406.5 320,407.5 328,407.5 335,407.5 343,407.5 351,407.5 359,407.5 367,406.5 374,406.5 382,406.5 390,406.5 398,405.5 406,405.5 413,406.5 421,407.5 429,406.5 437,407.5 445,407.5 452,406.5 460,406.5 468,405.5 476,404.5 484,404.5 491,405.5 499,404.5 507,405.5 515,404.5 523,404.5 530,404.5 538,403.5 546,404.5 554,404.5 562,405.5 569,405.5 577,406.5 585,406.5 593,406.5 601,407.5 608,408.5 616,409.5 624,408.5 632,408.5 640,407.5 647,407.5 655,407.5 663,408.5 671,408.5 679,408.5 686,407.5 694,406.5 702,406.5 710,406.5 718,406.5"/>
<polyline stroke="#20a060" points="187,405.5 195,405.5 203,405.5 211,404.5 218,403.5 226,404.5 234,404.5 242,402.5 250,403.5 257,402.5 265,402.5 273,403.5 281,404.5 289,404.5 296,405.5 304,405.5 312,404.5 320,404.5 328,404.5 335,404.5 343,404.5 351,405.5 359,405.5 367,403.5 374,403.5 382,404.5 390,403.5 398,402.5 406,402.5 413,403.5 421,403.5 429,404.5 437,403.5 445,401.5 452,402.5 460,403.5 468,402.5 476,401.5 484,401.5 491,401.5 499,401.5 507,401.5 515,401.5 523,402.5 530,402.5 538,402.5 546,402.5 554,402.5 562,403.5 569,403.5 577,404.5 585,404.5 593,405.5 601,404.5 608,404.5 616,404.5 624,403.5 632,403.5 640,403.5 647,405.5 655,404.5 663,404.5 671,404.5 679,404.5 686,404.5 694,405.5 702,404.5 710,404.5 718,405.5"/>
<polyline stroke="#10b010" points="187,407.5 195,407.5 203,407.5 211,407.5 218,407.5 226,407.5 234,406.5 242,406.5 250,405.5 257,405.5 265,405.5 273,405.5 281,405.5 289,405.5 296,405.5 304,405.5 312,406.5 320,406.5 328,405.5 335,405.5 343,405.5 351,405.5 359,406.5 367,405.5 374,405.5 382,404.5 390,404.5 398,405.5 406,405.5 413,405.5 421,404.5 429,404.5 437,404.5 445,404.5 452,402.5 460,403.5 468,404.5 476,404.5 484,405.5 491,404.5 499,403.5 507,403.5 515,403.5 523,403.5 530,404.5 538,405.5 546,404.5 554,405.5 562,405.5 569,405.5 577,406.5 585,405.5 593,405.5 601,405.5 608,406.5 616,407.5 624,405.5 632,406.5 640,407.5 647,407.5 655,406.5 663,407.5 671,406.5 679,406.5 686,407.5 694,407.5 702,407.5 710,407.5 718,406.5"/>
<polyline stroke="#d01010" points="187,402.5 195,403.5 203,403.5 211,402.5 218,402.5 226,402.5 234,401.5 242,401.5 250,401.5 257,401.5 265,400.5 273,400.5 281,399.5 289,399.5 296,400.5 304,399.5 312,400.5 320,400.5 328,401.5 335,401.5 343,402.5 351,403.5 359,402.5 367,401.5 374,401.5 382,400.5 390,400.5 398,400.5 406,401.5 413,400.5 421,400.5 429,399.5 437,400.5 445,400.5 452,401.5 460,400.5 468,400.5 476,399.5 484,400.5 491,400.5 499,400.5 507,399.5 515,400.5 523,400.5 530,400.5 538,400.5 546,401.5 554,401.5 562,401.5 569,402.5 577,401.5 585,400.5 593,400.5 601,401.5 608,403.5 616,402.5 624,401.5 632,401.5 640,401.5 647,401.5 655,401.5 663,401.5 671,401.5 679,401.5 686,400.5 694,401.5 702,401.5 710,402.5 718,402.5"/>
<polyline stroke="#a01040" points="187,407.5 195,406.5 203,406.5 211,407.5 218,407.5 226,406.5 234,406.5 242,405.5 250,405.5 257,405.5 265,406.5 273,406.5 281,406.5 289,405.5 296,405.5 304,404.5 312,405.5 320,405.5 328,405.5 335,405.5 343,405.5 351,405.5 359,405.5 367,405.5 374,404.5 382,405.5 390,404.5 398,404.5 406,403.5 413,403.5 421,403.5 429,403.5 437,404.5 445,404.5 452,404.5 460,404.5 468,405.5 476,405.5 484,405.5 491,405.5 499,405.5 507,404.5 515,404.5 523,404.5 530,404.5 538,404.5 546,404.5 554,404.5 562,403.5 569,404.5 577,404.5 585,405.5 593,404.5 601,404.5 608,405.5 616,404.5 624,404.5 632,405.5 640,406.5 647,405.5 655,406.5 663,406.5 671,405.5 679,406.5 686,406.5 694,405.5 702,405.5 710,405.5 718,406.5"/>
<polyline stroke="#d01010" points="187,404.5 195,404.5 203,404.5 211,404.5 218,405.5 226,404.5 234,403.5 242,403.5 250,403.5 257,402.5 265,402.5 273,402.5 281,402.5 289,402.5 296,400.5 304,400.5 312,401.5 320,401.5 328,402.5 335,401.5 343,402.5 351,403.5 359,402.5 367,402.5 374,401.5 382,401.5 390,402.5 398,402.5 406,402.5 413,403.5 421,402.5 429,402.5 437,402.5 445,402.5 452,402.5 460,402.5 468,400.5 476,401.5 484,400.5 491,400.5 499,401.5 507,402.5 515,402.5 523,403.5 530,403.5 538,402.5 546,402.5 554,402.5 562,401.5 569,401.5 577,400.5 585,400.5 593,400.5 601,401.5 608,400.5 616,401.5 624,401.5 632,401.5 640,401.5 647,402.5 655,403.5 663,403.5 671,403.5 679,402.5 686,401.5 694,401.5 702,402.5 710,403.5 718,404.5"/>
<polyline stroke="#1010c8" points="187,408.5 195,409.5 203,409.5 211,408.5 218,408.5 226,406.5 234,406.5 242,406.5 250,407.5 257,406.5 265,406.5 273,406.5 281,406.5 289,406.5 296,406.5 304,405.5 312,407.5 320,407.5 328,406.5 335,407.5 343,407.5 351,408.5 359,407.5 367,408.5 374,407.5 382,406.5 390,405.5 398,405.5 406,404.5 413,404.5 421,404.5 429,404.5 437,403.5 445,403.5 452,403.5 460,403.5 468,403.5 476,403.5 484,404.5 491,404.5 499,403.5 507,404.5 515,404.5 523,405.5 530,405.5 538,404.5 546,403.5 554,404.5 562,404.5 569,404.5 577,404.5 585,404.5 593,404.5 601,404.5 608,405.5 616,405.5 624,406.5 632,406.5 640,407.5 647,407.5 655,407.5 663,407.5 671,406.5 679,407.5 686,407.5 694,407.5 702,406.5 710,406.5 718,406.5"/>
<polyline stroke="#4060d0" points="187,400.5 195,400.5 203,400.5 211,400.5 218,400.5 226,400.5 234,401.5 242,400.5 250,401.5 257,401.5 265,400.5 273,400.5 281,399.5 289,398.5 296,398.5 304,398.5 312,398.5 320,399.5 328,399.5 335,399.5 343,398.5 351,398.5 359,399.5 367,398.5 374,398.5 382,398.5 390,398.5 398,398.5 406,398.5 413,397.5 421,398.5 429,397.5 437,397.5 445,398.5 452,398.5 460,398.5 468,398.5 476,399.5 484,398.5 491,398.5 499,398.5 507,399.5 515,397.5 523,397.5 530,396.5 538,398.5 546,398.5 554,398.5 562,398.5 569,399.5 577,399.5 585,399.5 593,399.5 601,399.5 608,399.5 616,399.5 624,398.5 632,398.5 640,397.5 647,398.5 655,399.5 663,400.5 671,399.5 679,400.5 686,400.5 694,401.5 702,400.5 710,401.5 718,402.5"/>
<polyline stroke="#d07090" points="187,405.5 195,404.5 203,403.5 211,403.5 218,404.5 226,403.5 234,402.5 242,403.5 250,401.5 257,402.5 265,401.5 273,401.5 281,400.5 289,401.5 296,401.5 304,400.5 312,400.5 320,400.5 328,401.5 335,400.5 343,400.5 351,401.5 359,402.5 367,402.5 374,402.5 382,402.5 390,402.5 398,403.5 406,402.5 413,401.5 421,401.5 429,402.5 437,403.5 445,402.5 452,403.5 460,403.5 468,402.5 476,402.5 484,402.5 491,402.5 499,401.5 507,401.5 515,402.5 523,403.5 530,403.5 538,404.5 546,404.5 554,403.5 562,404.5 569,404.5 577,404.5 585,404.5 593,403.5 601,403.5 608,402.5 616,401.5 624,401.5 632,402.5 640,403.5 647,403.5 655,403.5 663,403.5 671,403.5 679,403.5 686,402.5 694,402.5 702,402.5 710,403.5 718,404.5"/>
<polyline stroke="#702070" points="187,401.5 195,401.5 203,401.5 211,401.5 218,401.5 226,401.5 234,401.5 242,401.5 250,399.5 257,399.5 265,398.5 273,397.5 281,397.5 289,396.5 296,396.5 304,397.5 312,398.5 320,398.5 328,397.5 335,397.5 343,398.5 351,398.5 359,399.5 367,399.5 374,400.5 382,399.5 390,398.5 398,398.5 406,399.5 413,399.5 421,398.5 429,399.5 437,399.5 445,399.5 452,399.5 460,400.5 468,399.5 476,400.5 484,400.5 491,400.5 499,400.5 507,400.5 515,400.5 523,399.5 530,399.5 538,398.5 546,398.5 554,398.5 562,398.5 569,397.5 577,396.5 585,397.5 593,397.5 601,398.5 608,398.5 616,399.5 624,399.5 632,399.5 640,398.5 647,398.5 655,398.5 663,398.5 671,400.5 679,400.5 686,401.5 694,401.5 702,400.5 710,401.5 718,402.5"/>
<polyline stroke="#606000" points="187,402.5 195,403.5 203,402.5 211,403.5 218,402.5 226,402.5 234,400.5 242,400.5 250,401.5 257,400.5 265,401.5 273,400.5 281,399.5 289,398.5 296,399.5 304,400.5 312,399.5 320,400.5 328,401.5 335,401.5 343,401.5 351,401.5 359,402.5 367,401.5 374,401.5 382,401.5 390,400.5 398,400.5 406,400.5 413,400.5 421,399.5 429,398.5 437,398.5 445,397.5 452,399.5 460,399.5 468,399.5 476,400.5 484,400.5 491,399.5 499,399.5 507,400.5 515,400.5 523,400.5 530,400.5 538,400.5 546,399.5 554,399.5 562,399.5 569,397.5 577,398.5 585,398.5 593,398.5 601,398.5 608,399.5 616,398.5 624,400.5 632,401.5 640,400.5 647,399.5 655,399.5 663,399.5 671,399.5 679,400.5 686,401.5 694,402.5 702,401.5 710,402.5 718,402.5"/>
<polyline stroke="#50a8b0" points="187,402.5 195,403.5 203,400.5 211,400.5 218,400.5 226,401.5 234,402.5 242,401.5 250,400.5 257,400.5 265,400.5 273,399.5 281,399.5 289,399.5 296,399.5 304,400.5 312,400.5 320,401.5 328,400.5 335,400.5 343,399.5 351,399.5 359,398.5 367,398.5 374,398.5 382,399.5 390,398.5 398,398.5 406,399.5 413,399.5 421,400.5 429,399.5 437,398.5 445,397.5 452,396.5 460,397.5 468,399.5 476,399.5 484,399.5 491,400.5 499,401.5 507,400.5 515,400.5 523,400.5 530,400.5 538,399.5 546,398.5 554,399.5 562,399.5 569,399.5 577,399.5 585,399.5 593,398.5 601,398.5 608,397.5 616,397.5 624,397.5 632,398.5 640,398.5 647,397.5 655,397.5 663,397.5 671,397.5 679,397.5 686,396.5 694,398.5 702,399.5 710,400.5 718,401.5"/>
<polyline stroke="#a0a040" points="187,408.5 195,409.5 203,409.5 211,409.5 218,408.5 226,408.5 234,407.5 242,406.5 250,407.5 257,405.5 265,405.5 273,405.5 281,406.5 289,405.5 296,405.5 304,405.5 312,405.5 320,406.5 328,405.5 335,405.5 343,405.5 351,405.5 359,406.5 367,405.5 374,405.5 382,405.5 390,405.5 398,405.5 406,405.5 413,404.5 421,404.5 429,405.5 437,403.5 445,405.5 452,405.5 460,405.5 468,404.5 476,404.5 484,406.5 491,406.5 499,406.5 507,406.5 515,406.5 523,406.5 530,407.5 538,408.5 546,408.5 554,408.5 562,407.5 569,408.5 577,406.5 585,407.5 593,406.5 601,406.5 608,405.5 616,404.5 624,405.5 632,405.5 640,405.5 647,405.5 655,405.5 663,405.5 671,405.5 679,405.5 686,406.5 694,406.5 702,406.5 710,406.5 718,406.5"/>
<polyline stroke="#c04000" points="187,409.5 195,408.5 203,407.5 211,406.5 218,406.5 226,406.5 234,405.5 242,406.5 250,406.5 257,408.5 265,407.5 273,407.5 281,407.5 289,406.5 296,406.5 304,405.5 312,405.5 320,406.5 328,406.5 335,405.5 343,404.5 351,405.5 359,405.5 367,406.5 374,406.5 382,405.5 390,405.5 398,405.5 406,406.5 413,405.5 421,406.5 429,407.5 437,407.5 445,406.5 452,406.5 460,406.5 468,407.5 476,407.5 484,407.5 491,407.5 499,408.5 507,408.5 515,408.5 523,407.5 530,407.5 538,406.5 546,406.5 554,406.5 562,407.5 569,407.5 577,408.5 585,407.5 593,408.5 601,408.5 608,409.5 616,409.5 624,409.5 632,409.5 640,409.5 647,408.5 655,409.5 663,409.5 671,409.5 679,408.5 686,408.5 694,408.5 702,407.5 710,407.5 718,406.5"/>
<polyline stroke="#a01040" points="187,401.5 195,402.5 203,402.5 211,401.5 218,401.5 226,401.5 234,401.5 242,400.5 250,401.5 257,401.5 265,400.5 273,399.5 281,399.5 289,398.5 296,398.5 304,398.5 312,399.5 320,398.5 328,398.5 335,399.5 343,400.5 351,401.5 359,401.5 367,401.5 374,401.5 382,401.5 390,400.5 398,399.5 406,399.5 413,399.5 421,399.5 429,399.5 437,399.5 445,400.5 452,399.5 460,399.5 468,400.5 476,400.5 484,401.5 491,400.5 499,400.5 507,401.5 515,400.5 523,400.5 530,399.5 538,398.5 546,398.5 554,398.5 562,398.5 569,398.5 577,398.5 585,399.5 593,399.5 601,399.5 608,399.5 616,399.5 624,400.5 632,399.5 640,398.5 647,399.5 655,399.5 663,399.5 671,399.5 679,399.5 686,400.5 694,401.5 702,401.5 710,401.5 718,401.5"/>
<polyline stroke="#4060d0" points="187,402.5 195,401.5 203,402.5 211,402.5 218,402.5 226,401.5 234,401.5 242,401.5 250,400.5 257,399.5 265,398.5 273,399.5 281,399.5 289,399.5 296,398.5 304,398.5 312,398.5 320,397.5 328,397.5 335,397.5 343,397.5 351,398.5 359,398.5 367,399.5 374,398.5 382,399.5 390,399.5 398,399.5 406,399.5 413,399.5 421,398.5 429,397.5 437,397.5 445,397.5 452,397.5 460,398.5 468,397.5 476,397.5 484,397.5 491,396.5 499,396.5 507,397.5 515,398.5 523,398.5 530,398.5 538,399.5 546,399.5 554,399.5 562,399.5 569,399.5 577,399.5 585,400.5 593,400.5 601,400.5 608,399.5 616,399.5 624,399.5 632,399.5 640,399.5 647,399.5 655,399.5 663,399.5 671,399.5 679,399.5 686,399.5 694,400.5 702,401.5 710,402.5 718,402.5"/>
<polyline stroke="#109090" points="187,406.5 195,406.5 203,406.5 211,406.5 218,406.5 226,406.5 234,406.5 242,406.5 250,404.5 257,403.5 265,403.5 273,403.5 281,404.5 289,404.5 296,404.5 304,404.5 312,403.5 320,403.5 328,403.5 335,404.5 343,405.5 351,404.5 359,404.5 367,405.5 374,406.5 382,404.5 390,404.5 398,403.5 406,403.5 413,403.5 421,404.5 429,405.5 437,404.5 445,403.5 452,403.5 460,404.5 468,405.5 476,405.5 484,405.5 491,405.5 499,404.5 507,404.5 515,404.5 523,403.5 530,404.5 538,404.5 546,404.5 554,403.5 562,404.5 569,404.5 577,404.5 585,403.5 593,404.5 601,405.5 608,405.5 616,405.5 624,406.5 632,406.5 640,406.5 647,405.5 655,406.5 663,405.5 671,406.5 679,405.5 686,406.5 694,404.5 702,406.5 710,405.5 718,405.5"/>
<polyline stroke="#a01040" points="187,401.5 195,401.5 203,401.5 211,400.5 218,399.5 226,399.5 234,399.5 242,398.5 250,397.5 257,398.5 265,398.5 273,399.5 281,399.5 289,399.5 296,398.5 304,399.5 312,398.5 320,398.5 328,398.5 335,397.5 343,398.5 351,397.5 359,398.5 367,397.5 374,399.5 382,398.5 390,398.5 398,398.5 406,399.5 413,399.5 421,398.5 429,398.5 437,398.5 445,399.5 452,399.5 460,399.5 468,400.5 476,400.5 484,399.5 491,399.5 499,399.5 507,399.5 515,399.5 523,398.5 530,398.5 538,398.5 546,399.5 554,399.5 562,400.5 569,400.5 577,400.5 585,400.5 593,400.5 601,399.5 608,399.5 616,399.5 624,399.5 632,399.5 640,399.5 647,399.5 655,400.5 663,400.5 671,401.5 679,401.5 686,401.5 694,401.5 702,401.5 710,402.5 718,402.5"/>
<polyline stroke="#30d030" points="187,405.5 195,404.5 203,403.5 211,402.5 218,403.5 226,402.5 234,403.5 242,403.5 250,402.5 257,401.5 265,402.5 273,402.5 281,403.5 289,403.5 296,403.5 304,403.5 312,402.5 320,402.5 328,402.5 335,402.5 343,401.5 351,401.5 359,402.5 367,403.5 374,402.5 382,402.5 390,401.5 398,401.5 406,400.5 413,400.5 421,401.5 429,400.5 437,401.5 445,402.5 452,401.5 460,402.5 468,401.5 476,401.5 484,400.5 491,401.5 499,401.5 507,401.5 515,401.5 523,401.5 530,401.5 538,403.5 546,403.5 554,402.5 562,402.5 569,402.5 577,402.5 585,400.5 593,401.5 601,402.5 608,402.5 616,402.5 624,402.5 632,403.5 640,404.5 647,403.5 655,403.5 663,403.5 671,404.5 679,404.5 686,405.5 694,404.5 702,404.5 710,404.5 718,404.5"/>
<polyline stroke="#8000a0" points="187,405.5 195,405.5 203,405.5 211,405.5 218,404.5 226,404.5 234,404.5 242,404.5 250,403.5 257,403.5 265,402.5 273,402.5 281,402.5 289,402.5 296,401.5 304,401.5 312,401.5 320,403.5 328,403.5 335,403.5 343,404.5 351,403.5 359,402.5 367,401.5 374,401.5 382,401.5 390,402.5 398,401.5 406,403.5 413,402.5 421,402.5 429,402.5 437,402.5 445,401.5 452,402.5 460,402.5 468,403.5 476,403.5 484,403.5 491,404.5 499,403.5 507,404.5 515,404.5 523,404.5 530,404.5 538,403.5 546,404.5 554,404.5 562,404.5 569,405.5 577,405.5 585,404.5 593,403.5 601,404.5 608,403.5 616,402.5 624,403.5 632,403.5 640,403.5 647,403.5 655,405.5 663,404.5 671,404.5 679,404.5 686,404.5 694,405.5 702,405.5 710,405.5 718,405.5"/>
</g>
<g fill="none" stroke-width="0.9" stroke-linejoin="miter">
<polyline stroke="#d07090" points="717.5,407.2 725.3,406.5 733.1,391.5 740.9,358.3 748.7,311.2 756.5,258.3 764.3,208.1 772.1,168.8 779.9,145.9 787.7,143.9 795.5,168.1 803.3,215.9 811.1,274.4 818.9,329.1 826.7,372.1 834.5,400.6 842.3,416.9 850.1,424.9 857.9,429.1 865.7,430.4 873.5,430.4 881.3,429.8 889.1,429.5 896.9,429.3 904.7,428.8 907.5,428.7"/>
<polyline stroke="#c04000" points="717.5,403.7 725.3,403.2 733.1,386.4 740.9,351.2 748.7,303.3 756.5,250.3 764.3,200.7 772.1,162.2 779.9,141.2 787.7,141.2 795.5,173.3 803.3,230.9 811.1,295.8 818.9,351.5 826.7,390.3 834.5,413.1 842.3,424.3 850.1,429.1 857.9,431.0 865.7,431.3 873.5,430.7 881.3,430.3 889.1,430.1 896.9,429.6 904.7,429.4 907.5,428.9"/>
<polyline stroke="#c04000" points="717.5,407.7 725.3,407.8 733.1,399.6 740.9,366.2 748.7,314.0 756.5,253.7 764.3,197.5 772.1,156.6 779.9,139.6 787.7,150.2 795.5,193.2 803.3,254.4 811.1,316.1 818.9,365.7 826.7,398.7 834.5,416.8 842.3,425.6 850.1,429.4 857.9,430.6 865.7,430.9 873.5,430.5 881.3,430.3 889.1,429.8 896.9,429.7 904.7,429.0 907.5,428.9"/>
<polyline stroke="#902070" points="717.5,405.9 725.3,405.8 733.1,405.8 740.9,394.3 748.7,351.8 756.5,291.7 764.3,235.1 772.1,200.8 779.9,198.7 787.7,224.2 795.5,269.7 803.3,320.6 811.1,364.8 818.9,396.2 826.7,415.3 834.5,425.0 842.3,429.2 850.1,430.5 857.9,431.4 865.7,431.2 873.5,430.9 881.3,430.3 889.1,430.0 896.9,429.5 904.7,428.8 907.5,428.6"/>
<polyline stroke="#20a060" points="717.5,405.2 725.3,404.8 733.1,392.0 740.9,362.3 748.7,320.3 756.5,273.3 764.3,227.8 772.1,191.0 779.9,169.5 787.7,165.5 795.5,186.8 803.3,233.4 811.1,289.9 818.9,342.5 826.7,382.1 834.5,407.6 842.3,421.1 850.1,427.6 857.9,430.2 865.7,430.9 873.5,430.8 881.3,430.2 889.1,429.7 896.9,429.4 904.7,429.2 907.5,428.8"/>
<polyline stroke="#606000" points="717.5,404.4 725.3,404.7 733.1,393.7 740.9,361.9 748.7,314.4 756.5,258.5 764.3,203.4 772.1,157.7 779.9,129.4 787.7,122.1 795.5,149.5 803.3,214.2 811.1,289.3 818.9,352.4 826.7,394.4 834.5,416.4 842.3,426.5 850.1,430.0 857.9,431.4 865.7,431.2 873.5,431.1 881.3,431.1 889.1,430.4 896.9,429.5 904.7,429.2 907.5,428.8"/>
<polyline stroke="#a0a040" points="717.5,404.2 725.3,404.5 733.1,398.4 740.9,368.9 748.7,320.1 756.5,261.5 764.3,203.0 772.1,155.5 779.9,127.5 787.7,124.5 795.5,157.6 803.3,222.0 811.1,294.1 818.9,353.8 826.7,393.5 834.5,415.6 842.3,425.8 850.1,429.6 857.9,431.0 865.7,431.1 873.5,430.5 881.3,430.0 889.1,429.6 896.9,429.2 904.7,428.8 907.5,428.6"/>
<polyline stroke="#8000a0" points="717.5,403.3 725.3,404.0 733.1,402.7 740.9,381.7 748.7,340.0 756.5,285.4 764.3,228.3 772.1,179.3 779.9,147.6 787.7,139.1 795.5,160.3 803.3,214.1 811.1,280.7 818.9,341.1 826.7,385.1 834.5,410.4 842.3,423.5 850.1,429.1 857.9,430.7 865.7,430.8 873.5,430.7 881.3,430.6 889.1,430.3 896.9,429.6 904.7,429.2 907.5,429.1"/>
<polyline stroke="#d01010" points="717.5,406.2 725.3,405.6 733.1,389.2 740.9,353.7 748.7,304.2 756.5,249.7 764.3,198.0 772.1,157.4 779.9,134.4 787.7,133.9 795.5,180.9 803.3,261.3 811.1,338.6 818.9,390.5 826.7,417.1 834.5,427.3 842.3,430.7 850.1,431.6 857.9,431.6 865.7,431.1 873.5,430.5 881.3,430.1 889.1,429.4 896.9,429.3 904.7,429.3 907.5,429.1"/>
<polyline stroke="#109090" points="717.5,406.8 725.3,406.9 733.1,397.2 740.9,364.1 748.7,312.5 756.5,251.8 764.3,193.1 772.1,146.7 779.9,121.3 787.7,120.6 795.5,151.2 803.3,207.0 811.1,271.8 818.9,330.9 826.7,375.5 834.5,403.9 842.3,419.3 850.1,426.7 857.9,429.7 865.7,431.0 873.5,431.3 881.3,431.0 889.1,430.5 896.9,430.0 904.7,429.4 907.5,429.2"/>
<polyline stroke="#109090" points="717.5,404.6 725.3,403.1 733.1,383.8 740.9,346.3 748.7,297.3 756.5,244.1 764.3,197.0 772.1,162.9 779.9,147.9 787.7,155.6 795.5,194.0 803.3,251.8 811.1,312.3 818.9,362.1 826.7,395.8 834.5,415.3 842.3,424.6 850.1,428.6 857.9,430.2 865.7,430.5 873.5,430.3 881.3,430.0 889.1,429.9 896.9,429.4 904.7,429.1 907.5,428.9"/>
<polyline stroke="#a0a040" points="717.5,402.8 725.3,403.5 733.1,391.8 740.9,359.1 748.7,311.6 756.5,257.0 764.3,205.2 772.1,165.0 779.9,144.1 787.7,145.0 795.5,176.3 803.3,230.5 811.1,292.0 818.9,345.9 826.7,385.0 834.5,409.0 842.3,421.5 850.1,427.1 857.9,429.6 865.7,430.5 873.5,430.8 881.3,430.5 889.1,429.9 896.9,429.4 904.7,429.0 907.5,428.9"/>
<polyline stroke="#50a8b0" points="717.5,403.2 725.3,403.8 733.1,398.7 740.9,371.6 748.7,326.3 756.5,271.5 764.3,217.9 772.1,176.4 779.9,155.1 787.7,157.4 795.5,187.3 803.3,238.1 811.1,295.6 818.9,346.5 826.7,384.3 834.5,408.3 842.3,421.6 850.1,427.7 857.9,430.4 865.7,430.6 873.5,430.5 881.3,430.3 889.1,429.9 896.9,429.2 904.7,429.0 907.5,428.9"/>
<polyline stroke="#d01010" points="717.5,407.0 725.3,406.8 733.1,396.5 740.9,366.2 748.7,321.0 756.5,268.8 764.3,219.7 772.1,182.8 779.9,164.5 787.7,167.8 795.5,196.9 803.3,245.6 811.1,299.9 818.9,348.2 826.7,384.3 834.5,407.3 842.3,420.2 850.1,426.9 857.9,429.4 865.7,430.2 873.5,430.2 881.3,430.1 889.1,430.0 896.9,429.8 904.7,429.3 907.5,429.3"/>
<polyline stroke="#a01040" points="717.5,406.8 725.3,405.8 733.1,390.2 740.9,357.9 748.7,314.5 756.5,267.3 764.3,223.5 772.1,191.3 779.9,175.6 787.7,178.5 795.5,200.7 803.3,239.2 811.1,284.6 818.9,328.6 826.7,365.5 834.5,393.0 842.3,411.0 850.1,421.5 857.9,426.9 865.7,429.2 873.5,429.9 881.3,429.9 889.1,429.5 896.9,429.1 904.7,428.4 907.5,428.4"/>
<polyline stroke="#a0a040" points="717.5,404.7 725.3,404.8 733.1,392.9 740.9,363.8 748.7,322.4 756.5,275.1 764.3,230.1 772.1,194.1 779.9,173.4 787.7,170.8 795.5,194.5 803.3,243.0 811.1,300.4 818.9,351.5 826.7,388.8 834.5,411.6 842.3,423.5 850.1,428.4 857.9,430.3 865.7,430.6 873.5,430.7 881.3,430.2 889.1,430.0 896.9,429.5 904.7,429.3 907.5,428.7"/>
<polyline stroke="#1010c8" points="717.5,406.6 725.3,406.6 733.1,400.9 740.9,368.5 748.7,313.9 756.5,248.6 764.3,187.4 772.1,143.3 779.9,126.2 787.7,141.2 795.5,191.9 803.3,259.9 811.1,325.4 818.9,374.8 826.7,405.5 834.5,421.3 842.3,428.2 850.1,430.7 857.9,431.5 865.7,431.4 873.5,431.1 881.3,430.6 889.1,430.1 896.9,429.7 904.7,428.9 907.5,428.7"/>
<polyline stroke="#606000" points="717.5,403.4 725.3,403.8 733.1,393.4 740.9,362.2 748.7,315.6 756.5,261.1 764.3,208.5 772.1,166.6 779.9,142.6 787.7,139.8 795.5,165.6 803.3,217.7 811.1,279.5 818.9,335.8 826.7,377.9 834.5,405.4 842.3,420.1 850.1,427.0 857.9,430.1 865.7,430.8 873.5,430.6 881.3,430.2 889.1,429.9 896.9,429.4 904.7,429.1 907.5,428.8"/>
<polyline stroke="#10b010" points="717.5,405.4 725.3,405.8 733.1,398.7 740.9,367.8 748.7,317.7 756.5,257.9 764.3,198.5 772.1,150.3 779.9,122.3 787.7,120.5 795.5,176.6 803.3,270.5 811.1,352.8 818.9,401.8 826.7,422.4 834.5,429.1 842.3,430.8 850.1,431.2 857.9,431.2 865.7,430.9 873.5,430.5 881.3,430.3 889.1,430.0 896.9,429.5 904.7,429.0 907.5,428.8"/>
<polyline stroke="#a01040" points="717.5,406.2 725.3,406.7 733.1,395.9 740.9,368.8 748.7,329.8 756.5,283.7 764.3,236.9 772.1,195.5 779.9,165.4 787.7,150.4 795.5,153.9 803.3,188.2 811.1,244.8 818.9,306.1 826.7,358.0 834.5,393.3 842.3,414.1 850.1,424.7 857.9,428.9 865.7,430.2 873.5,430.3 881.3,429.9 889.1,429.7 896.9,429.8 904.7,429.3 907.5,429.0"/>
<polyline stroke="#a0a040" points="717.5,408.5 725.3,407.8 733.1,392.9 740.9,358.9 748.7,310.9 756.5,255.4 764.3,201.3 772.1,156.0 779.9,126.3 787.7,116.9 795.5,141.8 803.3,211.1 811.1,292.7 818.9,359.0 826.7,399.9 834.5,420.1 842.3,428.2 850.1,430.4 857.9,431.3 865.7,431.1 873.5,430.6 881.3,430.3 889.1,429.9 896.9,429.4 904.7,429.0 907.5,428.8"/>
<polyline stroke="#109090" points="717.5,402.2 725.3,403.1 733.1,395.3 740.9,362.4 748.7,309.8 756.5,247.4 764.3,188.1 772.1,143.3 779.9,121.6 787.7,132.2 795.5,196.6 803.3,284.3 811.1,357.9 818.9,402.0 826.7,421.9 834.5,428.8 842.3,430.6 850.1,430.8 857.9,430.9 865.7,430.6 873.5,430.3 881.3,430.0 889.1,429.4 896.9,429.4 904.7,428.9 907.5,428.2"/>
<polyline stroke="#000090" points="717.5,403.5 725.3,403.2 733.1,386.5 740.9,349.0 748.7,298.3 756.5,243.0 764.3,193.9 772.1,159.9 779.9,147.3 787.7,165.1 795.5,223.9 803.3,297.3 811.1,359.1 818.9,399.0 826.7,419.0 834.5,427.2 842.3,430.0 850.1,430.4 857.9,430.7 865.7,430.5 873.5,430.2 881.3,429.8 889.1,429.5 896.9,429.0 904.7,428.9 907.5,428.8"/>
<polyline stroke="#109090" points="717.5,405.4 725.3,405.1 733.1,397.7 740.9,369.1 748.7,323.9 756.5,268.5 764.3,211.9 772.1,163.4 779.9,130.2 787.7,118.4 795.5,141.4 803.3,212.5 811.1,297.3 818.9,364.7 826.7,404.6 834.5,422.7 842.3,429.2 850.1,430.9 857.9,431.2 865.7,431.2 873.5,430.8 881.3,430.3 889.1,429.6 896.9,429.2 904.7,428.8 907.5,428.8"/>
<polyline stroke="#00c000" points="717.5,405.9 725.3,405.5 733.1,389.3 740.9,353.2 748.7,303.2 756.5,246.9 764.3,192.4 772.1,149.0 779.9,122.9 787.7,118.1 795.5,159.0 803.3,239.3 811.1,321.9 818.9,381.0 826.7,412.7 834.5,425.9 842.3,430.1 850.1,431.2 857.9,431.3 865.7,430.8 873.5,430.2 881.3,429.7 889.1,429.3 896.9,429.0 904.7,428.9 907.5,428.7"/>
<polyline stroke="#109090" points="717.5,404.5 725.3,404.8 733.1,404.4 740.9,385.9 748.7,345.9 756.5,292.5 764.3,237.1 772.1,191.0 779.9,163.8 787.7,161.2 795.5,194.4 803.3,255.9 811.1,321.4 818.9,373.7 826.7,405.5 834.5,421.7 842.3,428.3 850.1,430.3 857.9,431.1 865.7,430.8 873.5,430.5 881.3,430.0 889.1,429.7 896.9,429.3 904.7,428.6 907.5,428.7"/>
<polyline stroke="#d07090" points="717.5,406.8 725.3,406.9 733.1,406.3 740.9,387.8 748.7,346.9 756.5,292.2 764.3,235.7 772.1,191.0 779.9,166.7 787.7,167.5 795.5,193.8 803.3,238.6 811.1,290.9 818.9,339.1 826.7,376.9 834.5,402.5 842.3,417.6 850.1,425.2 857.9,428.8 865.7,430.1 873.5,430.5 881.3,430.1 889.1,429.7 896.9,429.0 904.7,428.6 907.5,428.5"/>
<polyline stroke="#a01040" points="717.5,402.6 725.3,403.2 733.1,387.7 740.9,351.8 748.7,301.5 756.5,245.2 764.3,192.7 772.1,152.7 779.9,131.7 787.7,134.9 795.5,177.0 803.3,245.9 811.1,316.3 818.9,370.7 826.7,404.2 834.5,420.7 842.3,427.8 850.1,430.3 857.9,430.8 865.7,430.6 873.5,430.3 881.3,429.8 889.1,429.3 896.9,429.0 904.7,428.5 907.5,428.6"/>
<polyline stroke="#a01040" points="717.5,401.9 725.3,402.8 733.1,392.0 740.9,359.2 748.7,311.1 756.5,254.9 764.3,200.0 772.1,156.1 779.9,130.3 787.7,127.3 795.5,167.6 803.3,243.7 811.1,322.2 818.9,379.1 826.7,411.4 834.5,425.6 842.3,430.0 850.1,431.0 857.9,431.4 865.7,431.2 873.5,430.7 881.3,430.1 889.1,429.8 896.9,429.6 904.7,429.2 907.5,429.0"/>
<polyline stroke="#702070" points="717.5,408.0 725.3,408.0 733.1,396.0 740.9,362.7 748.7,315.6 756.5,264.5 764.3,220.4 772.1,193.2 779.9,188.5 787.7,212.1 795.5,261.0 803.3,317.3 811.1,365.6 818.9,398.6 826.7,417.0 834.5,426.1 842.3,429.8 850.1,431.4 857.9,431.5 865.7,431.6 873.5,431.1 881.3,430.5 889.1,430.3 896.9,429.9 904.7,429.4 907.5,429.0"/>
<polyline stroke="#20a060" points="717.5,407.1 725.3,405.3 733.1,387.4 740.9,351.5 748.7,303.9 756.5,252.8 764.3,207.6 772.1,175.9 779.9,163.2 787.7,170.8 795.5,201.6 803.3,248.5 811.1,299.8 818.9,345.9 826.7,381.2 834.5,404.9 842.3,418.8 850.1,426.0 857.9,429.3 865.7,430.4 873.5,430.7 881.3,430.5 889.1,430.2 896.9,429.5 904.7,428.9 907.5,428.7"/>
<polyline stroke="#4060d0" points="717.5,404.4 725.3,404.7 733.1,398.2 740.9,373.7 748.7,335.0 756.5,288.6 764.3,241.2 772.1,200.5 779.9,172.9 787.7,163.1 795.5,173.9 803.3,211.4 811.1,264.9 818.9,319.0 826.7,364.5 834.5,396.1 842.3,414.7 850.1,424.5 857.9,429.2 865.7,430.6 873.5,430.9 881.3,430.6 889.1,430.5 896.9,430.1 904.7,429.6 907.5,429.3"/>
<polyline stroke="#4060d0" points="717.5,404.6 725.3,403.5 733.1,386.3 740.9,352.2 748.7,307.4 756.5,259.3 764.3,215.9 772.1,184.6 779.9,170.6 787.7,176.6 795.5,209.0 803.3,259.6 811.1,313.8 818.9,360.1 826.7,392.8 834.5,413.1 842.3,423.2 850.1,428.0 857.9,429.7 865.7,430.4 873.5,430.1 881.3,429.7 889.1,429.5 896.9,429.2 904.7,429.0 907.5,428.5"/>
<polyline stroke="#d07090" points="717.5,404.4 725.3,404.7 733.1,393.8 740.9,367.3 748.7,328.8 756.5,284.3 764.3,240.2 772.1,203.5 779.9,179.4 787.7,172.1 795.5,183.0 803.3,215.9 811.1,262.0 818.9,310.4 826.7,353.2 834.5,385.7 842.3,407.2 850.1,419.8 857.9,426.7 865.7,429.8 873.5,430.8 881.3,430.7 889.1,430.2 896.9,429.6 904.7,429.2 907.5,429.2"/>
<polyline stroke="#606000" points="717.5,402.9 725.3,402.1 733.1,385.7 740.9,353.3 748.7,309.2 756.5,260.3 764.3,213.6 772.1,176.0 779.9,152.7 787.7,147.2 795.5,167.4 803.3,217.5 811.1,280.4 818.9,338.4 826.7,381.1 834.5,407.7 842.3,421.3 850.1,427.4 857.9,429.7 865.7,430.4 873.5,430.0 881.3,430.0 889.1,429.6 896.9,429.3 904.7,429.3 907.5,429.3"/>
<polyline stroke="#606000" points="717.5,404.6 725.3,403.6 733.1,387.9 740.9,355.1 748.7,310.2 756.5,259.7 764.3,210.7 772.1,170.4 779.9,144.5 787.7,136.6 795.5,151.6 803.3,195.6 811.1,254.8 818.9,313.8 826.7,361.8 834.5,394.7 842.3,414.4 850.1,424.3 857.9,429.1 865.7,430.6 873.5,430.8 881.3,430.6 889.1,430.2 896.9,429.8 904.7,429.4 907.5,429.2"/>
<polyline stroke="#00c000" points="717.5,408.7 725.3,407.7 733.1,390.3 740.9,351.8 748.7,298.9 756.5,241.7 764.3,190.8 772.1,155.7 779.9,143.1 787.7,159.2 795.5,210.9 803.3,278.2 811.1,340.3 818.9,384.7 826.7,410.8 834.5,423.5 842.3,428.6 850.1,430.6 857.9,431.1 865.7,431.0 873.5,430.8 881.3,430.1 889.1,429.5 896.9,429.1 904.7,428.6 907.5,428.2"/>
<polyline stroke="#20a060" points="717.5,406.3 725.3,406.4 733.1,393.5 740.9,361.1 748.7,315.1 756.5,263.1 764.3,213.4 772.1,174.6 779.9,153.1 787.7,152.6 795.5,186.5 803.3,247.3 811.1,313.0 818.9,366.2 826.7,400.8 834.5,418.9 842.3,426.8 850.1,430.0 857.9,430.9 865.7,430.9 873.5,431.0 881.3,430.5 889.1,429.9 896.9,429.6 904.7,429.2 907.5,428.8"/>
<polyline stroke="#000090" points="717.5,404.7 725.3,404.6 733.1,390.7 740.9,357.3 748.7,310.6 756.5,258.4 764.3,210.5 772.1,175.3 779.9,159.2 787.7,165.2 795.5,199.9 803.3,253.7 811.1,310.7 818.9,359.3 826.7,393.5 834.5,413.7 842.3,423.9 850.1,428.5 857.9,430.4 865.7,430.6 873.5,430.4 881.3,430.4 889.1,430.1 896.9,430.0 904.7,429.5 907.5,429.3"/>
<polyline stroke="#d07090" points="717.5,404.5 725.3,402.6 733.1,383.8 740.9,346.8 748.7,297.4 756.5,242.7 764.3,190.9 772.1,149.9 779.9,125.4 787.7,121.0 795.5,159.3 803.3,236.7 811.1,318.0 818.9,377.3 826.7,410.5 834.5,425.0 842.3,429.6 850.1,430.8 857.9,431.2 865.7,431.1 873.5,430.5 881.3,430.0 889.1,429.7 896.9,429.2 904.7,428.9 907.5,428.8"/>
<polyline stroke="#a01040" points="717.5,404.1 725.3,404.2 733.1,395.9 740.9,367.8 748.7,326.1 756.5,278.8 764.3,233.6 772.1,199.3 779.9,182.2 787.7,184.6 795.5,207.4 803.3,247.0 811.1,293.9 818.9,338.4 826.7,374.4 834.5,400.2 842.3,415.9 850.1,424.6 857.9,428.8 865.7,430.4 873.5,430.6 881.3,430.4 889.1,429.7 896.9,429.4 904.7,428.7 907.5,428.7"/>
<polyline stroke="#8000a0" points="717.5,404.7 725.3,404.5 733.1,397.6 740.9,368.8 748.7,322.9 756.5,269.8 764.3,218.8 772.1,180.1 779.9,161.7 787.7,165.2 795.5,191.9 803.3,236.9 811.1,288.5 818.9,336.2 826.7,374.2 834.5,400.3 842.3,416.2 850.1,424.7 857.9,428.9 865.7,430.3 873.5,430.4 881.3,430.2 889.1,429.5 896.9,429.1 904.7,428.7 907.5,428.2"/>
<polyline stroke="#a0a040" points="717.5,406.8 725.3,406.9 733.1,398.3 740.9,370.5 748.7,329.1 756.5,281.2 764.3,235.3 772.1,198.9 779.9,178.5 787.7,177.1 795.5,196.2 803.3,233.7 811.1,280.2 818.9,326.3 826.7,365.1 834.5,393.0 842.3,411.2 850.1,421.5 857.9,426.9 865.7,429.4 873.5,430.4 881.3,430.3 889.1,430.1 896.9,429.6 904.7,429.0 907.5,429.1"/>
<polyline stroke="#1010c8" points="717.5,408.2 725.3,407.3 733.1,388.3 740.9,349.1 748.7,296.8 756.5,241.1 764.3,191.7 772.1,157.2 779.9,143.9 787.7,156.9 795.5,200.8 803.3,261.3 811.1,321.7 818.9,369.4 826.7,400.5 834.5,418.2 842.3,426.5 850.1,430.1 857.9,431.2 865.7,431.1 873.5,430.5 881.3,430.1 889.1,429.6 896.9,429.1 904.7,428.8 907.5,428.5"/>
<polyline stroke="#a0a040" points="717.5,407.3 725.3,407.2 733.1,393.5 740.9,356.5 748.7,302.7 756.5,242.2 764.3,184.7 772.1,140.6 779.9,118.0 787.7,119.7 795.5,152.4 803.3,208.8 811.1,272.7 818.9,330.6 826.7,374.0 834.5,402.1 842.3,418.1 850.1,425.8 857.9,429.2 865.7,430.3 873.5,430.6 881.3,430.4 889.1,430.2 896.9,429.5 904.7,429.4 907.5,429.2"/>
<polyline stroke="#20a060" points="717.5,405.5 725.3,405.3 733.1,391.9 740.9,357.6 748.7,308.8 756.5,253.6 764.3,201.6 772.1,162.0 779.9,141.8 787.7,144.5 795.5,177.8 803.3,233.9 811.1,295.8 818.9,349.2 826.7,387.5 834.5,411.0 842.3,423.0 850.1,428.1 857.9,430.0 865.7,430.9 873.5,430.8 881.3,430.3 889.1,429.8 896.9,429.4 904.7,429.0 907.5,428.8"/>
<polyline stroke="#10b010" points="717.5,407.2 725.3,405.5 733.1,386.1 740.9,347.1 748.7,295.4 756.5,239.3 764.3,188.8 772.1,151.7 779.9,133.9 787.7,143.5 795.5,199.4 803.3,277.7 811.1,347.8 818.9,394.1 826.7,417.7 834.5,427.2 842.3,430.3 850.1,431.1 857.9,431.5 865.7,431.1 873.5,430.9 881.3,430.6 889.1,430.1 896.9,429.6 904.7,428.9 907.5,428.6"/>
<polyline stroke="#d01010" points="717.5,403.4 725.3,403.1 733.1,387.8 740.9,357.1 748.7,315.4 756.5,268.4 764.3,224.3 772.1,188.7 779.9,167.7 787.7,163.6 795.5,182.4 803.3,224.5 811.1,278.0 818.9,330.0 826.7,371.8 834.5,399.7 842.3,416.4 850.1,425.2 857.9,429.2 865.7,430.2 873.5,430.6 881.3,429.9 889.1,429.7 896.9,429.3 904.7,428.7 907.5,428.6"/>
<polyline stroke="#a01040" points="717.5,406.7 725.3,406.6 733.1,397.3 740.9,368.6 748.7,325.2 756.5,276.0 764.3,230.1 772.1,195.5 779.9,179.0 787.7,182.5 795.5,205.2 803.3,243.4 811.1,288.3 818.9,331.5 826.7,367.5 834.5,393.9 842.3,411.2 850.1,421.0 857.9,426.7 865.7,429.4 873.5,430.0 881.3,430.0 889.1,430.0 896.9,429.3 904.7,429.0 907.5,429.1"/>
<polyline stroke="#d01010" points="717.5,404.5 725.3,404.7 733.1,398.1 740.9,369.6 748.7,323.4 756.5,267.5 764.3,212.2 772.1,166.2 779.9,138.2 787.7,132.7 795.5,152.3 803.3,195.7 811.1,251.7 818.9,307.5 826.7,354.2 834.5,387.9 842.3,409.2 850.1,421.4 857.9,427.3 865.7,429.8 873.5,430.4 881.3,430.1 889.1,429.6 896.9,429.1 904.7,428.7 907.5,428.4"/>
<polyline stroke="#1010c8" points="717.5,406.6 725.3,405.0 733.1,386.8 740.9,350.9 748.7,303.0 756.5,250.8 764.3,202.5 772.1,165.4 779.9,145.3 787.7,145.6 795.5,177.8 803.3,235.1 811.1,299.3 818.9,353.9 826.7,391.7 834.5,413.6 842.3,424.4 850.1,428.8 857.9,430.6 865.7,431.0 873.5,430.5 881.3,430.3 889.1,429.9 896.9,429.8 904.7,429.1 907.5,428.8"/>
<polyline stroke="#4060d0" points="717.5,402.7 725.3,402.4 733.1,386.0 740.9,350.6 748.7,303.6 756.5,252.2 764.3,204.9 772.1,169.5 779.9,152.4 787.7,156.4 795.5,188.6 803.3,241.5 811.1,299.7 818.9,350.8 826.7,387.8 834.5,410.5 842.3,422.7 850.1,428.3 857.9,430.4 865.7,430.8 873.5,430.7 881.3,430.1 889.1,429.8 896.9,429.3 904.7,429.0 907.5,428.8"/>
<polyline stroke="#d07090" points="717.5,404.8 725.3,405.2 733.1,393.6 740.9,364.7 748.7,323.6 756.5,276.6 764.3,230.7 772.1,194.1 779.9,172.4 787.7,168.6 795.5,188.7 803.3,233.0 811.1,288.2 818.9,339.8 826.7,379.6 834.5,405.6 842.3,419.8 850.1,426.9 857.9,429.4 865.7,430.4 873.5,430.4 881.3,430.2 889.1,429.8 896.9,429.3 904.7,428.9 907.5,428.6"/>
<polyline stroke="#702070" points="717.5,403.1 725.3,403.6 733.1,402.9 740.9,384.4 748.7,346.2 756.5,297.6 764.3,249.6 772.1,213.8 779.9,199.2 787.7,208.4 795.5,245.5 803.3,297.5 811.1,348.4 818.9,387.1 826.7,411.0 834.5,423.3 842.3,428.4 850.1,430.6 857.9,431.6 865.7,430.9 873.5,430.4 881.3,430.0 889.1,429.2 896.9,429.1 904.7,428.9 907.5,428.8"/>
<polyline stroke="#606000" points="717.5,403.1 725.3,402.8 733.1,387.4 740.9,355.1 748.7,310.0 756.5,259.7 764.3,211.9 772.1,173.2 779.9,149.8 787.7,145.1 795.5,165.2 803.3,211.4 811.1,269.8 818.9,325.6 826.7,369.7 834.5,399.2 842.3,416.6 850.1,425.0 857.9,428.7 865.7,429.8 873.5,430.5 881.3,430.5 889.1,430.0 896.9,429.7 904.7,429.2 907.5,429.0"/>
<polyline stroke="#50a8b0" points="717.5,401.8 725.3,402.7 733.1,391.6 740.9,364.5 748.7,326.0 756.5,281.8 764.3,238.6 772.1,203.2 779.9,181.3 787.7,175.8 795.5,190.1 803.3,228.5 811.1,279.7 818.9,330.4 826.7,371.8 834.5,400.0 842.3,416.8 850.1,425.3 857.9,429.2 865.7,430.6 873.5,430.8 881.3,430.4 889.1,430.1 896.9,429.4 904.7,429.0 907.5,428.8"/>
<polyline stroke="#a0a040" points="717.5,407.2 725.3,406.5 733.1,395.6 740.9,369.0 748.7,330.9 756.5,286.7 764.3,243.7 772.1,207.8 779.9,184.9 787.7,178.5 795.5,188.0 803.3,215.5 811.1,254.7 818.9,297.9 826.7,338.4 834.5,371.7 842.3,395.8 850.1,411.9 857.9,421.2 865.7,426.2 873.5,428.2 881.3,429.0 889.1,429.1 896.9,429.1 904.7,428.7 907.5,428.5"/>
<polyline stroke="#c04000" points="717.5,407.1 725.3,406.9 733.1,394.1 740.9,359.1 748.7,308.3 756.5,250.1 764.3,193.5 772.1,148.1 779.9,122.2 787.7,119.0 795.5,157.4 803.3,229.1 811.1,305.9 818.9,365.9 826.7,402.4 834.5,420.5 842.3,427.4 850.1,430.1 857.9,431.0 865.7,431.1 873.5,430.6 881.3,430.2 889.1,429.6 896.9,429.0 904.7,428.5 907.5,428.3"/>
<polyline stroke="#a01040" points="717.5,402.2 725.3,403.3 733.1,394.0 740.9,366.3 748.7,324.5 756.5,275.5 764.3,226.8 772.1,186.0 779.9,159.8 787.7,152.0 795.5,169.7 803.3,219.3 811.1,283.3 818.9,342.1 826.7,384.8 834.5,410.3 842.3,423.2 850.1,428.6 857.9,430.7 865.7,430.8 873.5,430.6 881.3,430.3 889.1,430.1 896.9,429.7 904.7,429.4 907.5,429.3"/>
<polyline stroke="#4060d0" points="717.5,402.8 725.3,403.1 733.1,391.0 740.9,358.9 748.7,311.6 756.5,256.5 764.3,202.1 772.1,156.7 779.9,127.1 787.7,117.8 795.5,141.1 803.3,205.2 811.1,282.9 818.9,349.6 826.7,393.4 834.5,416.7 842.3,426.8 850.1,430.0 857.9,431.0 865.7,431.3 873.5,430.9 881.3,430.5 889.1,430.1 896.9,429.6 904.7,429.3 907.5,429.2"/>
<polyline stroke="#109090" points="717.5,406.3 725.3,406.4 733.1,394.7 740.9,364.2 748.7,319.4 756.5,267.6 764.3,217.8 772.1,177.0 779.9,152.5 787.7,148.4 795.5,172.2 803.3,223.6 811.1,285.4 818.9,341.3 826.7,382.6 834.5,408.1 842.3,421.7 850.1,427.9 857.9,430.4 865.7,430.9 873.5,430.6 881.3,430.3 889.1,430.0 896.9,429.8 904.7,429.2 907.5,429.0"/>
<polyline stroke="#a01040" points="717.5,403.1 725.3,401.4 733.1,379.7 740.9,338.7 748.7,285.1 756.5,228.5 764.3,178.8 772.1,144.4 779.9,131.5 787.7,143.5 795.5,188.0 803.3,251.0 811.1,314.2 818.9,364.6 826.7,398.1 834.5,416.9 842.3,426.0 850.1,429.8 857.9,430.9 865.7,430.8 873.5,430.6 881.3,429.8 889.1,429.1 896.9,428.6 904.7,428.1 907.5,428.3"/>
<polyline stroke="#30d030" points="717.5,405.3 725.3,405.3 733.1,393.7 740.9,360.8 748.7,312.5 756.5,257.6 764.3,205.5 772.1,164.4 779.9,142.5 787.7,143.7 795.5,181.7 803.3,246.4 811.1,314.3 818.9,368.0 826.7,402.4 834.5,420.1 842.3,427.7 850.1,430.3 857.9,431.1 865.7,431.0 873.5,430.9 881.3,430.6 889.1,430.3 896.9,429.7 904.7,429.3 907.5,428.7"/>
<polyline stroke="#8000a0" points="717.5,405.5 725.3,405.4 733.1,400.4 740.9,371.7 748.7,322.5 756.5,262.8 764.3,203.6 772.1,156.7 779.9,131.2 787.7,134.0 795.5,190.7 803.3,277.0 811.1,353.2 818.9,399.9 826.7,421.1 834.5,429.0 842.3,431.4 850.1,431.7 857.9,431.8 865.7,431.6 873.5,430.6 881.3,430.3 889.1,430.1 896.9,429.6 904.7,429.1 907.5,428.7"/>
</g>
<rect x="118" y="53" width="1" height="452" fill="#506a50"/>
<rect x="119" y="53" width="1" height="452" fill="#2a5a2a"/>
<rect x="120" y="53" width="1" height="452" fill="#62aa62"/>
<rect x="121" y="53" width="1" height="452" fill="#72a472"/>
<rect x="122" y="53" width="1" height="452" fill="#e4f6e4"/>
<rect x="118" y="504.6" width="867" height="1.5" fill="#000"/>
<g font-family="Liberation Sans, sans-serif" fill="#333" font-size="10.3">
<text x="110.8" y="57.0" text-anchor="end">0.100</text>
<text x="110.8" y="132.9" text-anchor="end">0.080</text>
<text x="110.8" y="207.9" text-anchor="end">0.060</text>
<text x="110.8" y="283.4" text-anchor="end">0.040</text>
<text x="110.8" y="358.9" text-anchor="end">0.020</text>
<text x="110.8" y="434.5" text-anchor="end">0.000</text>
<text x="110.8" y="509.6" text-anchor="end">-0.020</text>
<text x="119.5" y="524" text-anchor="middle">60</text>
<text x="242.5" y="524" text-anchor="middle">65</text>
<text x="366.5" y="524" text-anchor="middle">70</text>
<text x="489.5" y="524" text-anchor="middle">75</text>
<text x="613.5" y="524" text-anchor="middle">80</text>
<text x="736.5" y="524" text-anchor="middle">85</text>
<text x="860.5" y="524" text-anchor="middle">90</text>
<text x="983.5" y="524" text-anchor="middle">95</text>
</g>
<text x="449.4" y="38.2" textLength="157.4" lengthAdjust="spacing" font-family="Liberation Sans, sans-serif" font-size="19.1" fill="#111">Dissociation Curve</text>
<rect x="449" y="40.8" width="158.2" height="1.7" fill="#111"/>
<text x="479.6" y="552.8" textLength="96.4" lengthAdjust="spacingAndGlyphs" font-family="Liberation Sans, sans-serif" font-size="13.7" fill="#222">Temperature (C)</text>
<text transform="translate(24.2,313.1) rotate(-90)" textLength="59.6" lengthAdjust="spacingAndGlyphs" font-family="Liberation Sans, sans-serif" font-size="13.7" fill="#222">Derivative</text>
<g font-family="Liberation Sans, sans-serif" fill="#383838" font-size="10.8">
<text x="38.4" y="574.4" textLength="133.8" lengthAdjust="spacingAndGlyphs">Detector = SYBR, Tm = 60.0</text>
<text x="38.2" y="589.6" textLength="292.2" lengthAdjust="spacingAndGlyphs">Well(s): A1-A8,B1-B8,C1-C8,D1-D8,E1-E8,F1-F8,G1-G8,H1-H8</text>
<text x="38.4" y="604.7" textLength="176.0" lengthAdjust="spacingAndGlyphs">Document: 120622-2 (Standard Curve)</text>
</g>
<path fill="none" stroke="#1e1e1e" stroke-width="1" stroke-linecap="square" d="M181.6,564.6v0.8 M177.3,566.4H186.6 M177.6,566.6V570.5Q177.4,573.2 176.2,574.6 M176.2,567.9l0.8,0.7 M176.2,571.6l0.8,-0.8 M179.2,567.7l2,1.3 M181.3,567.6l-2.1,1.9 M183.2,567.6l3,1.9 M186.2,567.7l-2,1.6 M178.8,569.9H186.8 M179.2,570.9h2.3v1.3h-2.3v1.4h2.3v0.9l-0.8,0.5 M183.6,570.9h2.4v0.9 M183.2,572.6h3.4 M183.5,573l2.8,1.7 M186.3,573l-2.8,1.7"/>
</svg>
</body></html>
